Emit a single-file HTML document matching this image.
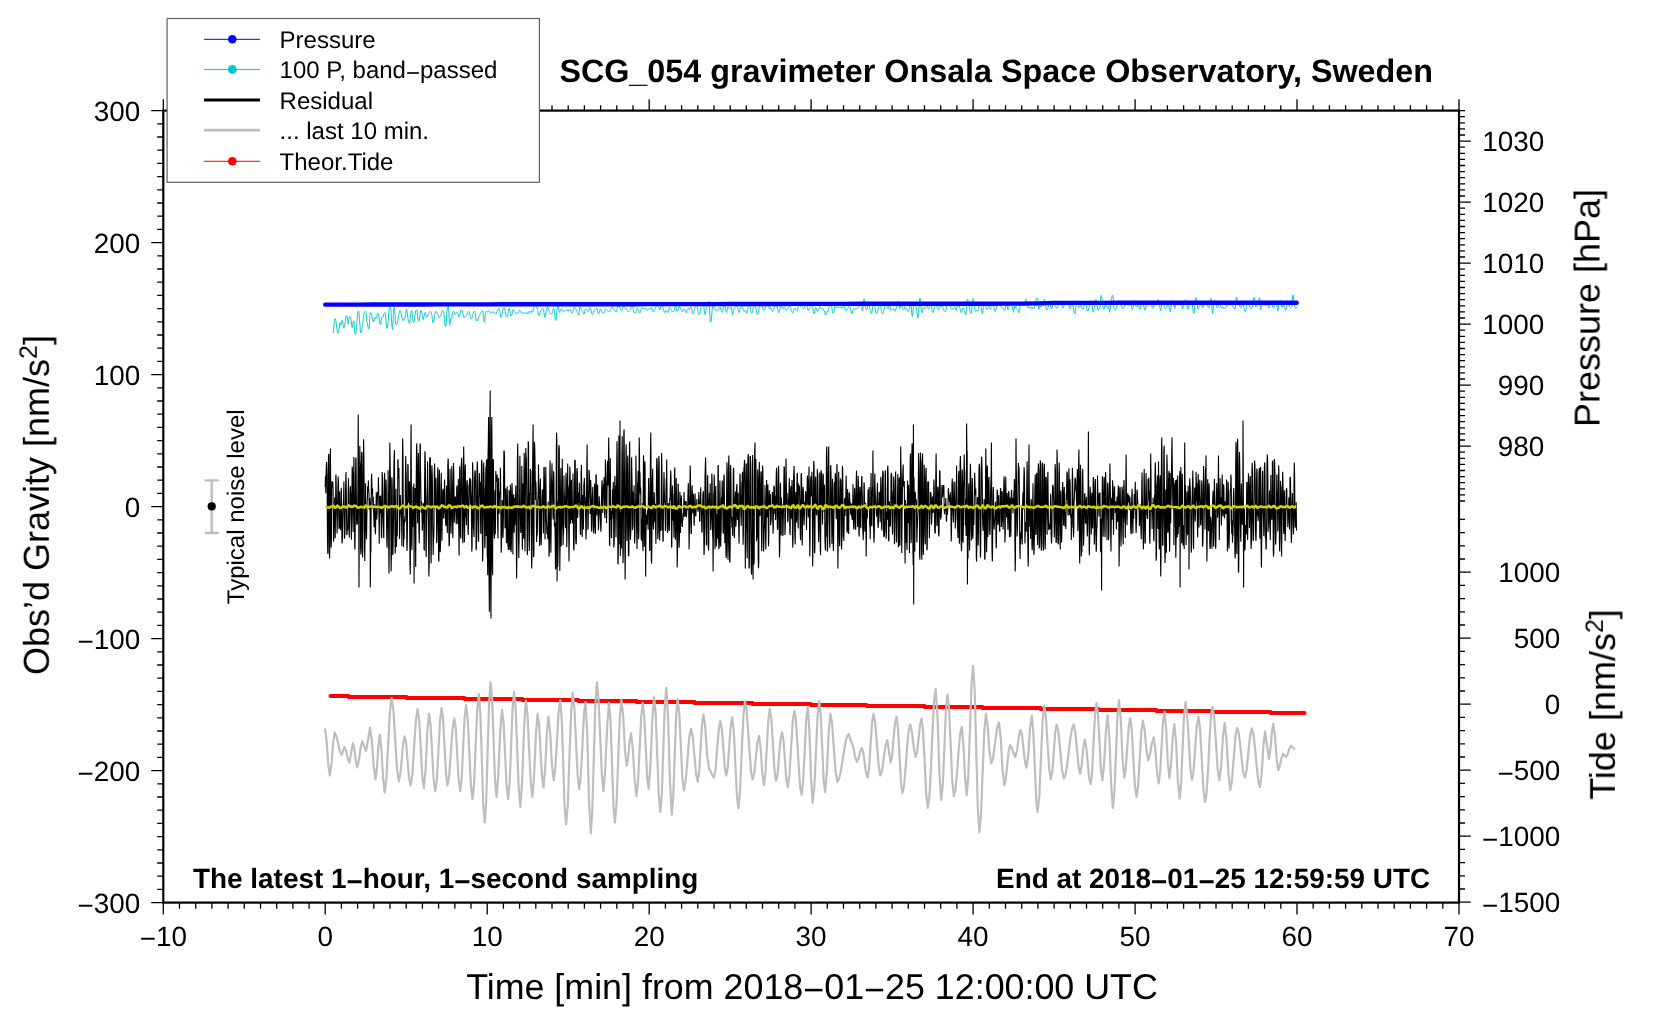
<!DOCTYPE html>
<html><head><meta charset="utf-8"><title>SCG_054 gravimeter Onsala Space Observatory, Sweden</title>
<style>
html,body{margin:0;padding:0;background:#fff;overflow:hidden;width:1660px;height:1020px;}
svg{display:block;}
text{font-family:"Liberation Sans",Arial,Helvetica,sans-serif;fill:#000;text-rendering:geometricPrecision;}
.lg{font-size:24px;}
.tl{font-size:27.9px;}
.ti{font-size:32.3px;font-weight:bold;}
.in{font-size:27.9px;font-weight:bold;}
.al{font-size:36px;}
.sup{font-size:25px;}
.xl{font-size:35.85px;}
</style></head>
<body><svg width="1660" height="1020" viewBox="0 0 1660 1020">
<rect x="0" y="0" width="1660" height="1020" fill="#fff"/>
<polyline fill="none" stroke="rgb(0,200,200)" stroke-width="0.95" stroke-linejoin="round" points="333.3,333 333.6,331 333.9,328 334.2,322.2 334.4,320.5 334.7,319.5 335,318.9 335.2,318.6 335.5,318.9 335.8,320.2 336,321.7 336.3,324 336.6,326.1 336.9,328.2 337.1,330.7 337.4,332.5 337.7,333.4 337.9,332.8 338.2,332.4 338.5,332.6 338.7,330.9 339,329.2 339.3,327.1 339.6,324.1 339.8,323 340.1,322.6 340.4,324 340.6,324.8 340.9,325.2 341.2,324.4 341.4,323.7 341.7,322 342,320.6 342.3,320.5 342.5,321.1 342.8,322.7 343.1,324.5 343.3,326.6 343.6,328.1 343.9,328.1 344.1,328.1 344.4,327.6 344.7,326.2 345,323.9 345.2,322.7 345.5,320.4 345.8,317.9 346,316.4 346.3,315.8 346.6,315.9 346.8,315.6 347.1,316.8 347.4,318.9 347.7,319.9 347.9,322.2 348.2,324 348.5,323.4 348.7,320.8 349,318.9 349.3,317.4 349.5,316.8 349.8,316.7 350.1,316.6 350.4,317.2 350.6,318.3 350.9,319.1 351.2,320.8 351.4,323 351.7,324.9 352,327 352.2,327.7 352.5,326.9 352.8,325.3 353.1,322.1 353.3,321.3 353.6,320.9 353.9,321.7 354.1,324.7 354.4,328.4 354.7,332.2 354.9,333.3 355.2,334.5 355.5,334.4 355.8,333.7 356,332.3 356.3,330.1 356.6,326.9 356.8,323.3 357.1,321.5 357.4,317.1 357.6,313.3 357.9,311.5 358.2,311 358.5,310.9 358.7,311.1 359,312.6 359.3,316.2 359.5,319.6 359.8,323.1 360.1,327.1 360.3,330.7 360.6,332.3 360.9,332.7 361.2,332.4 361.4,332 361.7,330.5 362,328 362.2,326 362.5,324.7 362.8,323.2 363,321.1 363.3,318.8 363.6,316.4 363.9,314.2 364.1,312.9 364.4,312.1 364.7,311.8 364.9,311.7 365.2,311.6 365.5,311.9 365.7,311.7 366,312.2 366.3,313.5 366.5,317 366.8,320.2 367.1,322.6 367.4,323.3 367.6,325.2 367.9,326.6 368.2,328 368.4,328.6 368.7,329 369,328.2 369.2,326.1 369.5,322.6 369.8,317.4 370.1,313.9 370.3,312.6 370.6,313 370.9,313.1 371.1,313.2 371.4,313.8 371.7,315.6 371.9,316.3 372.2,316.9 372.5,318.9 372.8,320.6 373,321.8 373.3,321.4 373.6,320.6 373.8,320.4 374.1,321 374.4,320.1 374.6,319.5 374.9,318.7 375.2,317.2 375.5,317.5 375.7,318.6 376,318.6 376.3,317.8 376.5,317.4 376.8,315.9 377.1,314.8 377.3,314.5 377.6,313.5 377.9,313.1 378.2,313.5 378.4,313.8 378.7,314.9 379,317.1 379.2,320 379.5,321.6 379.8,323.5 380,324.2 380.3,324.4 380.6,324 380.9,323.1 381.1,320.2 381.4,318.5 381.7,317.6 381.9,317 382.2,317.1 382.5,316.9 382.7,316.8 383,317.2 383.3,316.2 383.6,315.1 383.8,314.1 384.1,313.4 384.4,312.9 384.6,312.6 384.9,312.8 385.2,313.8 385.4,315.5 385.7,318.1 386,320.8 386.3,323.8 386.5,326.7 386.8,328.2 387.1,328.4 387.3,327.7 387.6,326 387.9,323.9 388.1,321.3 388.4,318.1 388.7,313.7 389,310.3 389.2,308.7 389.5,308.2 389.8,307.5 390,307.4 390.3,307.5 390.6,307.7 390.8,309 391.1,312.6 391.4,319.1 391.7,322.8 391.9,326.2 392.2,328.3 392.5,329.4 392.7,327.4 393,322.2 393.3,315.5 393.5,309.7 393.8,308.3 394.1,307.6 394.4,307.7 394.6,308.3 394.9,311.3 395.2,315.7 395.4,320.8 395.7,323.7 396,324.5 396.2,324.7 396.5,325.1 396.8,324.5 397.1,323.9 397.3,323.2 397.6,321.9 397.9,320.5 398.1,318.9 398.4,316.9 398.7,315.2 398.9,314.2 399.2,313.2 399.5,311.3 399.8,310.5 400,310.1 400.3,310.4 400.6,310.8 400.8,311.8 401.1,313.2 401.4,314.6 401.6,316.1 401.9,317.7 402.2,317.9 402.5,318.7 402.7,319.9 403,320.7 403.3,320.1 403.5,319.8 403.8,319.1 404.1,319.3 404.3,318.9 404.6,318.3 404.9,318.1 405.2,316.4 405.4,314.8 405.7,313.5 406,311.5 406.2,309.9 406.5,309.3 406.8,309.4 407,310.6 407.3,312.9 407.6,314.8 407.8,317.2 408.1,319.4 408.4,321 408.7,321.4 408.9,322.2 409.2,323.3 409.5,323.7 409.7,323.1 410,321.3 410.3,318.5 410.5,316.2 410.8,313.3 411.1,311.8 411.4,310.9 411.6,310.7 411.9,311.3 412.2,313.5 412.4,316.3 412.7,318.6 413,320.6 413.2,321.9 413.5,322.5 413.8,322.5 414.1,321.5 414.3,320.2 414.6,317.9 414.9,316.2 415.1,314.3 415.4,312 415.7,310.7 415.9,310.3 416.2,310.4 416.5,310.2 416.8,309.8 417,310.3 417.3,312.7 417.6,315.6 417.8,318 418.1,320 418.4,320.6 418.6,321.3 418.9,321 419.2,320.4 419.5,319 419.7,316.9 420,314.6 420.3,312.3 420.5,310.6 420.8,310.3 421.1,310.5 421.3,310.9 421.6,311.9 421.9,312.9 422.2,314.5 422.4,316.5 422.7,318 423,319 423.2,319.6 423.5,319.3 423.8,318.1 424,316.7 424.3,315 424.6,313.5 424.9,312.8 425.1,312.4 425.4,312.5 425.7,313.6 425.9,314.6 426.2,316.2 426.5,317.1 426.7,317.3 427,317.3 427.3,317 427.6,316 427.8,315.6 428.1,315.6 428.4,315.1 428.6,314.6 428.9,314.2 429.2,313.4 429.4,313.1 429.7,312.4 430,311.4 430.3,311.5 430.5,311.6 430.8,311.7 431.1,312 431.3,312.3 431.6,313.6 431.9,315.3 432.1,317.2 432.4,319.3 432.7,321.9 433,322.5 433.2,322.7 433.5,322.2 433.8,321 434,319.8 434.3,318.6 434.6,316.4 434.8,314.6 435.1,313.2 435.4,312.7 435.7,311.7 435.9,311.3 436.2,311.4 436.5,311.9 436.7,312.8 437,313.1 437.3,313.7 437.5,314.3 437.8,314.6 438.1,315.1 438.4,315.6 438.6,316.4 438.9,317.4 439.2,317.5 439.4,317.6 439.7,317.4 440,317 440.2,316.3 440.5,315.9 440.8,315.1 441.1,314.5 441.3,313.4 441.6,312.7 441.9,311.9 442.1,311 442.4,310.5 442.7,310.2 442.9,310.5 443.2,310.8 443.5,311.8 443.8,313.4 444,315.2 444.3,317.3 444.6,319.5 444.8,322.7 445.1,325 445.4,326 445.6,326.6 445.9,325.7 446.2,323.2 446.5,319.1 446.7,314.3 447,310.9 447.3,308.6 447.5,307.5 447.8,306.6 448.1,306.2 448.3,306 448.6,307.3 448.9,312.2 449.1,318.2 449.4,323.7 449.7,325.2 450,324.2 450.2,323 450.5,319.3 450.8,318.5 451,318.4 451.3,319.1 451.6,318.9 451.8,317.6 452.1,315.8 452.4,314 452.7,313.1 452.9,312.1 453.2,311.3 453.5,311.4 453.7,311.3 454,311.3 454.3,311.9 454.5,313.5 454.8,314.4 455.1,314.4 455.4,314.1 455.6,314 455.9,313.8 456.2,313.5 456.4,312.9 456.7,312.8 457,312.6 457.2,312.3 457.5,312.3 457.8,312.9 458.1,313.6 458.3,315 458.6,316.1 458.9,317.1 459.1,316.9 459.4,316.3 459.7,315.6 459.9,314.5 460.2,313.3 460.5,312.1 460.8,310.9 461,310.1 461.3,309.7 461.6,309.9 461.8,310.1 462.1,310.5 462.4,311 462.6,312 462.9,313.6 463.2,315.1 463.5,316.5 463.7,317.3 464,317.9 464.3,317.9 464.5,317.2 464.8,316.6 465.1,316.5 465.3,316.4 465.6,316 465.9,315.6 466.2,315.6 466.4,315.3 466.7,315.1 467,314.9 467.2,313.9 467.5,312.9 467.8,312.3 468,312 468.3,311.8 468.6,311.5 468.9,311.6 469.1,311.8 469.4,312.4 469.7,313.6 469.9,314.7 470.2,315.9 470.5,316.9 470.7,318.3 471,318.6 471.3,318.5 471.6,318.5 471.8,318.5 472.1,318.2 472.4,316.6 472.6,315.4 472.9,314.3 473.2,313.6 473.4,312.6 473.7,311.8 474,311.4 474.3,311 474.5,310.8 474.8,311.5 475.1,312.6 475.3,314.1 475.6,316.8 475.9,319.5 476.1,320.4 476.4,320.7 476.7,320.2 477,319.4 477.2,320 477.5,320.6 477.8,320.4 478,319.1 478.3,318.1 478.6,316.9 478.8,316.4 479.1,315.9 479.4,315.7 479.7,315.1 479.9,314.4 480.2,313.9 480.5,313.1 480.7,312.6 481,312.2 481.3,311.8 481.5,311.4 481.8,311.2 482.1,310.7 482.4,310.6 482.6,311 482.9,311.8 483.2,313.7 483.4,316.2 483.7,318.5 484,321.1 484.2,322.2 484.5,322.1 484.8,319.7 485.1,316.5 485.3,313.9 485.6,312.4 485.9,311.8 486.1,311.8 486.4,311.8 486.7,311.7 486.9,311.8 487.2,311.8 487.5,311.8 487.7,311.9 488,311.6 488.3,311 488.6,310.8 488.8,310.6 489.1,310.9 489.4,311.2 489.6,311.4 489.9,311.9 490.2,312.4 490.4,312.9 490.7,313.3 491,313.3 491.3,313.2 491.5,312.9 491.8,312.5 492.1,312 492.3,311.7 492.6,311.8 492.9,312.1 493.1,312.1 493.4,312.5 493.7,312.4 494,312.4 494.2,312.5 494.5,312.9 494.8,313 495,312.9 495.3,313.2 495.6,313.7 495.8,313.8 496.1,313.7 496.4,313.3 496.7,312.1 496.9,311.4 497.2,310.6 497.5,310 497.7,309.6 498,308.9 498.3,308.9 498.5,308.9 498.8,308.5 499.1,308.8 499.4,309.7 499.6,310.6 499.9,311.7 500.2,314 500.4,316.1 500.7,317.1 501,317 501.2,317.3 501.5,316.8 501.8,315.4 502.1,314.5 502.3,313.6 502.6,312.1 502.9,310.5 503.1,309.1 503.4,308.1 503.7,308.1 503.9,308.1 504.2,308.1 504.5,308 504.8,308.7 505,310.1 505.3,311.7 505.6,313.5 505.8,315.4 506.1,316.5 506.4,316.7 506.6,316.6 506.9,317 507.2,316.8 507.5,316.6 507.7,315.6 508,313.7 508.3,311.2 508.5,310 508.8,308.9 509.1,308.3 509.3,308.6 509.6,309.9 509.9,311.3 510.2,312.8 510.4,314.6 510.7,315.9 511,316.2 511.2,316.1 511.5,315.8 511.8,315.2 512,314.2 512.3,312.9 512.6,311.5 512.9,309.9 513.1,309.6 513.4,309.7 513.7,309.9 513.9,310.1 514.2,310.8 514.5,311.2 514.7,311.4 515,311.9 515.3,312.4 515.6,313 515.8,313.4 516.1,313.8 516.4,313.7 516.6,313.6 516.9,313.5 517.2,313.3 517.4,312.9 517.7,312.8 518,312.7 518.3,312.7 518.5,312.3 518.8,311.5 519.1,311.1 519.3,310.6 519.6,310.1 519.9,309.9 520.1,310.4 520.4,310.8 520.7,311.3 521,311.9 521.2,312.5 521.5,313.1 521.8,313 522,313.1 522.3,312.8 522.6,313 522.8,313 523.1,312.9 523.4,312.7 523.7,312.5 523.9,313 524.2,313.2 524.5,313.6 524.7,313.8 525,313.7 525.3,313.6 525.5,313.5 525.8,313.2 526.1,312.5 526.4,312 526.6,312.5 526.9,312.8 527.2,313.1 527.4,313.2 527.7,314 528,314.2 528.2,313.9 528.5,313.1 528.8,312.3 529,311.7 529.3,311.3 529.6,310.9 529.9,311.1 530.1,311.8 530.4,312.7 530.7,312.6 530.9,312.3 531.2,312 531.5,312 531.7,311.1 532,310.7 532.3,310.6 532.6,311.3 532.8,311.5 533.1,311.4 533.4,310.6 533.6,309.3 533.9,307.5 534.2,304.7 534.4,303.9 534.7,304.2 535,304.7 535.3,304.1 535.5,305.4 535.8,305.3 536.1,305.3 536.3,305.2 536.6,305.5 536.9,306.5 537.1,308.1 537.4,309.7 537.7,310.6 538,311.8 538.2,313 538.5,314.1 538.8,315.3 539,315.8 539.3,315.6 539.6,314.9 539.8,313.8 540.1,312.8 540.4,311.9 540.7,310.9 540.9,310.4 541.2,310 541.5,309.7 541.7,309.5 542,309.1 542.3,308.9 542.5,308.7 542.8,308.6 543.1,308.7 543.4,309.3 543.6,310 543.9,312.4 544.2,314.3 544.4,316.1 544.7,317 545,316.9 545.2,315.7 545.5,314 545.8,312.9 546.1,311.6 546.3,310.6 546.6,309.5 546.9,308.4 547.1,307.6 547.4,307.2 547.7,307.6 547.9,307.9 548.2,308.6 548.5,309.4 548.8,310.4 549,311.3 549.3,311.6 549.6,312.1 549.8,312.6 550.1,313 550.4,313.3 550.6,313.7 550.9,314.1 551.2,314.3 551.5,314 551.7,313.8 552,313.2 552.3,312.5 552.5,311.5 552.8,310.4 553.1,309.7 553.3,308.9 553.6,308.7 553.9,308.5 554.2,309.3 554.4,310.4 554.7,313.4 555,316.7 555.2,319.4 555.5,320.3 555.8,320.1 556,320.3 556.3,318.8 556.6,315.2 556.9,311.6 557.1,309.5 557.4,307.6 557.7,305.9 557.9,304.9 558.2,304.4 558.5,305.2 558.7,307.7 559,310.4 559.3,312 559.6,312.5 559.8,311.6 560.1,310.9 560.4,309.7 560.6,309.3 560.9,309.1 561.2,308.9 561.4,309.4 561.7,309.4 562,309.8 562.3,310.3 562.5,310.8 562.8,311.2 563.1,311.3 563.3,311.5 563.6,311.9 563.9,311.7 564.1,311.4 564.4,311.1 564.7,310.8 565,310.6 565.2,310.4 565.5,310.2 565.8,310.3 566,310.3 566.3,310.2 566.6,310.1 566.8,309.9 567.1,309.6 567.4,309.9 567.7,310 567.9,310.8 568.2,311.1 568.5,310.8 568.7,310.3 569,309.6 569.3,309.4 569.5,309.5 569.8,309.4 570.1,309.4 570.3,309.5 570.6,310.3 570.9,311.1 571.2,311.9 571.4,312.6 571.7,313.1 572,313.3 572.2,313 572.5,312.6 572.8,312.1 573,311.1 573.3,310.3 573.6,309.3 573.9,308.1 574.1,307.4 574.4,307.1 574.7,307.4 574.9,307.9 575.2,308.2 575.5,308.5 575.7,308.9 576,309.4 576.3,310 576.6,310.6 576.8,311.4 577.1,311.9 577.4,312.4 577.6,313 577.9,313.7 578.2,314.6 578.4,314.9 578.7,315 579,313.9 579.3,311.8 579.5,308.8 579.8,307.3 580.1,306.8 580.3,306.8 580.6,307.5 580.9,307.9 581.1,308.4 581.4,308.9 581.7,309.7 582,310.4 582.2,310.7 582.5,311 582.8,311.3 583,312 583.3,312.9 583.6,313.7 583.8,314.3 584.1,313.8 584.4,313 584.7,311.7 584.9,310.6 585.2,309.8 585.5,309.2 585.7,309 586,309 586.3,309.2 586.5,309.3 586.8,309.6 587.1,310 587.4,310.7 587.6,311.1 587.9,311.4 588.2,311.3 588.4,311.3 588.7,311.1 589,310.2 589.2,309.2 589.5,308.3 589.8,307.7 590.1,307.4 590.3,307.6 590.6,308.2 590.9,309.1 591.1,310.4 591.4,311.9 591.7,313.2 591.9,313.9 592.2,314.4 592.5,314.3 592.8,314.1 593,313.5 593.3,312.7 593.6,311.7 593.8,310.8 594.1,310.3 594.4,310.2 594.6,310 594.9,310.1 595.2,309.9 595.5,309.7 595.7,309.3 596,309 596.3,308.6 596.5,308.4 596.8,308.2 597.1,308.5 597.3,309.5 597.6,310.7 597.9,311.9 598.2,313 598.4,313.6 598.7,313.8 599,313.3 599.2,312.4 599.5,311.6 599.8,310.7 600,309.9 600.3,309 600.6,308.9 600.9,309.3 601.1,309.6 601.4,310.5 601.7,311.3 601.9,312.2 602.2,312.8 602.5,312.9 602.7,313.1 603,313.2 603.3,313.2 603.6,313.1 603.8,312.8 604.1,312.2 604.4,311.5 604.6,310.4 604.9,309.4 605.2,308.8 605.4,308.4 605.7,308.7 606,309 606.3,309.1 606.5,309.4 606.8,309.7 607.1,310.2 607.3,310.5 607.6,310.8 607.9,311 608.1,311.2 608.4,311.5 608.7,311.4 608.9,311.2 609.2,311.2 609.5,311.3 609.8,311.5 610,311.2 610.3,311 610.6,310.5 610.8,310 611.1,309.2 611.4,308.1 611.6,307.5 611.9,307.4 612.2,307.2 612.5,307.3 612.7,307.6 613,307.9 613.3,308.5 613.5,309.1 613.8,309.4 614.1,309.6 614.3,309.9 614.6,309.9 614.9,310.2 615.2,310.6 615.4,311.1 615.7,311.5 616,311.8 616.2,312.1 616.5,312 616.8,310.9 617,309.4 617.3,308.4 617.6,307.8 617.9,306.9 618.1,306.2 618.4,305.4 618.7,304.6 618.9,304.2 619.2,304.8 619.5,306 619.7,307.3 620,307.5 620.3,308.9 620.6,309.5 620.8,310 621.1,310.5 621.4,310.9 621.6,311.2 621.9,310.8 622.2,310.2 622.4,309.4 622.7,308.5 623,307.4 623.3,306.9 623.5,306.4 623.8,306.5 624.1,307.1 624.3,307.8 624.6,308.2 624.9,308.6 625.1,308.9 625.4,309.1 625.7,309.1 626,309.1 626.2,309.1 626.5,309.2 626.8,309.2 627,309.6 627.3,310.4 627.6,311 627.8,311.4 628.1,311.5 628.4,311.6 628.7,311.7 628.9,311.6 629.2,311.2 629.5,310.9 629.7,310.7 630,310.3 630.3,310 630.5,309.2 630.8,308.4 631.1,307.9 631.4,307.3 631.6,306.6 631.9,306.3 632.2,305.9 632.4,305.8 632.7,306.5 633,307.5 633.2,308.9 633.5,310.7 633.8,311.9 634.1,312.6 634.3,313.1 634.6,313.2 634.9,313.2 635.1,313.2 635.4,313.1 635.7,312.3 635.9,311.4 636.2,310.3 636.5,309.5 636.8,309 637,308.3 637.3,308.2 637.6,308.2 637.8,308.6 638.1,309.2 638.4,310.1 638.6,311.2 638.9,312.3 639.2,313 639.5,313 639.7,313 640,312.7 640.3,312.2 640.5,311.6 640.8,310.6 641.1,309.3 641.3,308.1 641.6,307.9 641.9,307.8 642.2,307.8 642.4,308 642.7,308.5 643,309 643.2,309 643.5,308.9 643.8,308.6 644,308.6 644.3,308.5 644.6,308.4 644.9,308.1 645.1,307.8 645.4,308.2 645.7,308.9 645.9,309.6 646.2,310 646.5,309.9 646.7,310.1 647,310.1 647.3,310.2 647.6,310.2 647.8,310.2 648.1,309.4 648.4,308.9 648.6,309 648.9,309 649.2,309.1 649.4,309.1 649.7,309.1 650,308.6 650.2,308.1 650.5,307.8 650.8,307.9 651.1,307.8 651.3,307.8 651.6,307.9 651.9,308.2 652.1,309.1 652.4,310.1 652.7,311 652.9,311.3 653.2,311.8 653.5,311.6 653.8,311.4 654,311.3 654.3,311.1 654.6,310.3 654.8,309.7 655.1,309 655.4,308.7 655.6,307.7 655.9,306.9 656.2,305.8 656.5,305.1 656.7,304.8 657,305.1 657.3,305.5 657.5,305.8 657.8,305.9 658.1,306 658.3,306.5 658.6,307.1 658.9,307.6 659.2,308 659.4,308.8 659.7,309.7 660,309.7 660.2,309.5 660.5,308.8 660.8,306.5 661,304.8 661.3,303.9 661.6,302.9 661.9,302.9 662.1,303.6 662.4,304.5 662.7,306 662.9,307.6 663.2,308.7 663.5,310.1 663.7,310.3 664,311.3 664.3,312.1 664.6,312.3 664.8,312.6 665.1,312 665.4,311 665.6,311 665.9,311.3 666.2,311.1 666.4,310.6 666.7,310.7 667,311.4 667.3,311.5 667.5,312.3 667.8,312.5 668.1,312.3 668.3,312.2 668.6,311.4 668.9,309.7 669.1,308.2 669.4,307.7 669.7,307.3 670,307.5 670.2,308.2 670.5,308.8 670.8,309.2 671,309.6 671.3,310 671.6,310.5 671.8,310.8 672.1,311.4 672.4,311.8 672.7,312 672.9,311.7 673.2,311.1 673.5,310.9 673.7,310.8 674,310.7 674.3,310.4 674.5,309.5 674.8,308 675.1,306.7 675.4,305.6 675.6,304.9 675.9,306.2 676.2,307.6 676.4,308.4 676.7,310.2 677,311.4 677.2,311 677.5,310.6 677.8,309.9 678.1,309.2 678.3,308.5 678.6,307.4 678.9,306.3 679.1,306.2 679.4,306.4 679.7,306.6 679.9,307.3 680.2,307.7 680.5,308 680.8,308.9 681,309.7 681.3,310.5 681.6,311 681.8,311.3 682.1,311.6 682.4,311.6 682.6,311.4 682.9,311.1 683.2,309.9 683.5,309.1 683.7,309.1 684,309.3 684.3,309.6 684.5,309.7 684.8,309.8 685.1,310.6 685.3,311.6 685.6,312 685.9,312.7 686.2,312.6 686.4,312.1 686.7,311.2 687,310.5 687.2,309.6 687.5,309.2 687.8,308.9 688,309.2 688.3,309 688.6,308.8 688.9,309 689.1,309.7 689.4,309.5 689.7,309.2 689.9,308.2 690.2,307.6 690.5,307 690.7,306.8 691,307.2 691.3,308 691.5,308.8 691.8,309.8 692.1,311.6 692.4,312.8 692.6,313.7 692.9,313.9 693.2,313.9 693.4,313.3 693.7,312.5 694,310.9 694.2,309.4 694.5,308.9 694.8,308.1 695.1,307.3 695.3,307.1 695.6,306.7 695.9,305.8 696.1,304.8 696.4,304.4 696.7,304.8 696.9,305.6 697.2,306.6 697.5,308.2 697.8,309.8 698,311.5 698.3,313.3 698.6,314.3 698.8,314.6 699.1,314.6 699.4,314.6 699.6,314.6 699.9,313.8 700.2,312.1 700.5,309.8 700.7,308 701,307.3 701.3,306.9 701.5,307 701.8,306.6 702.1,305.6 702.3,304.3 702.6,303 702.9,302.5 703.2,302.5 703.4,303.4 703.7,305 704,307.7 704.2,310.7 704.5,312.8 704.8,314.1 705,314.4 705.3,314 705.6,312.8 705.9,311 706.1,309.5 706.4,308.4 706.7,307.4 706.9,306.6 707.2,305.7 707.5,304.3 707.7,303.2 708,302.4 708.3,301.5 708.6,301 708.8,300.9 709.1,301.7 709.4,304.7 709.6,310.9 709.9,316.5 710.2,320.6 710.4,322.2 710.7,321.8 711,321 711.3,320 711.5,318 711.8,314.3 712.1,310.8 712.3,308.2 712.6,306.8 712.9,305.9 713.1,305.3 713.4,305 713.7,305.9 714,306.9 714.2,308.2 714.5,308.8 714.8,309.4 715,309.4 715.3,309.2 715.6,309.3 715.8,309.9 716.1,310.4 716.4,311 716.7,311.3 716.9,311.2 717.2,311 717.5,310.9 717.7,310.7 718,310.2 718.3,309.5 718.5,309 718.8,308.4 719.1,308.3 719.4,307.7 719.6,307.6 719.9,307.3 720.2,307.2 720.4,308 720.7,309.2 721,310.1 721.2,310.6 721.5,311.1 721.8,311.8 722.1,312.1 722.3,312.3 722.6,312 722.9,310.5 723.1,309.4 723.4,308.1 723.7,307.4 723.9,306.8 724.2,306.3 724.5,305.9 724.8,306 725,306.7 725.3,308 725.6,309.5 725.8,310.9 726.1,311.8 726.4,312.3 726.6,312.5 726.9,311.5 727.2,310 727.5,308.4 727.7,307.4 728,307.1 728.3,307.7 728.5,308 728.8,308.4 729.1,308.6 729.3,308.5 729.6,308.3 729.9,308.3 730.2,308.6 730.4,308.3 730.7,308 731,307.3 731.2,307.3 731.5,308.8 731.8,310.6 732,311.8 732.3,313.3 732.6,314.8 732.8,313.8 733.1,312 733.4,310.6 733.7,309.2 733.9,308.9 734.2,308.8 734.5,308.7 734.7,308.2 735,308.2 735.3,307.8 735.5,307.3 735.8,306.8 736.1,306.5 736.4,305.9 736.6,305.4 736.9,305.5 737.2,305.8 737.4,306.4 737.7,307.6 738,308.9 738.2,310.4 738.5,311.5 738.8,312 739.1,312.6 739.3,312.3 739.6,311.1 739.9,309.4 740.1,308.7 740.4,308.1 740.7,308.1 740.9,307.5 741.2,306.7 741.5,306.3 741.8,306.1 742,306.1 742.3,306.6 742.6,307.3 742.8,308.1 743.1,308.9 743.4,309.5 743.6,310.1 743.9,310.9 744.2,311 744.5,311 744.7,311.1 745,310.9 745.3,310.4 745.5,310.6 745.8,310.9 746.1,311.8 746.3,313 746.6,313.5 746.9,313.3 747.2,312.5 747.4,311.8 747.7,309.7 748,307.7 748.2,306.5 748.5,305.6 748.8,305.3 749,305.3 749.3,305 749.6,305.4 749.9,306 750.1,306.9 750.4,308 750.7,309.7 750.9,311.3 751.2,312.5 751.5,313.3 751.7,313.2 752,312.9 752.3,312.6 752.6,312 752.8,310.3 753.1,308.4 753.4,307.5 753.6,306.6 753.9,306 754.2,305.2 754.4,304.6 754.7,304.2 755,304.4 755.3,305.3 755.5,306.6 755.8,308.3 756.1,309.8 756.3,311.5 756.6,312.7 756.9,313.7 757.1,314.4 757.4,314.4 757.7,314.4 758,314 758.2,312.8 758.5,311.5 758.8,310 759,308.5 759.3,307.5 759.6,306.3 759.8,305.2 760.1,304.4 760.4,303.7 760.7,303.7 760.9,303.9 761.2,304.2 761.5,304.5 761.7,304.8 762,305.6 762.3,306.2 762.5,307.3 762.8,308.6 763.1,309.9 763.4,310.3 763.6,310.3 763.9,310.4 764.2,310.3 764.4,309.7 764.7,308.8 765,308.2 765.2,307 765.5,306.4 765.8,306.2 766.1,305.8 766.3,305.9 766.6,305.1 766.9,304.1 767.1,303.7 767.4,304.4 767.7,304.9 767.9,305 768.2,305.4 768.5,306.2 768.8,306.8 769,307 769.3,308.4 769.6,309.1 769.8,308.4 770.1,307.7 770.4,308 770.6,308.7 770.9,309.2 771.2,308.9 771.4,308.6 771.7,309.5 772,310.5 772.3,311.5 772.5,311.4 772.8,311 773.1,310.2 773.3,310 773.6,309.6 773.9,309.1 774.1,308.4 774.4,306.8 774.7,306 775,304.9 775.2,304.1 775.5,303.3 775.8,302.9 776,302.9 776.3,303.2 776.6,304.4 776.8,305.5 777.1,306.7 777.4,308.1 777.7,309.3 777.9,310.1 778.2,311.3 778.5,312.4 778.7,312.7 779,312.6 779.3,311.9 779.5,311.1 779.8,309.6 780.1,308.4 780.4,307.5 780.6,307 780.9,306.6 781.2,306.6 781.4,306.4 781.7,306.5 782,306.9 782.2,307.6 782.5,308 782.8,308.6 783.1,308.6 783.3,308.4 783.6,307.9 783.9,307.3 784.1,306.8 784.4,306.8 784.7,307.3 784.9,308 785.2,308.4 785.5,309.1 785.8,309.9 786,310.3 786.3,310 786.6,309.5 786.8,309.7 787.1,309.6 787.4,309.3 787.6,309.3 787.9,308.7 788.2,307.8 788.5,307 788.7,306.8 789,306.6 789.3,306.3 789.5,305.7 789.8,306 790.1,306 790.3,306.7 790.6,307.3 790.9,308.3 791.2,309.8 791.4,310.7 791.7,311.4 792,312 792.2,312.7 792.5,312.8 792.8,312.8 793,312.5 793.3,311.5 793.6,310.6 793.9,310.1 794.1,309.5 794.4,308.8 794.7,308.4 794.9,308.6 795.2,308.4 795.5,308.5 795.7,309.4 796,309.8 796.3,310.1 796.6,310.3 796.8,310.4 797.1,310.8 797.4,310.3 797.6,309.4 797.9,308.1 798.2,306.8 798.4,306.5 798.7,306.1 799,305.7 799.3,305.4 799.5,305.6 799.8,305.9 800.1,306.1 800.3,306.2 800.6,306.4 800.9,306.4 801.1,305.7 801.4,305.7 801.7,306 802,306.3 802.2,306.7 802.5,307.4 802.8,307.9 803,308.3 803.3,308.5 803.6,309.1 803.8,308.7 804.1,307.7 804.4,307.5 804.7,306.9 804.9,306.2 805.2,305.4 805.5,304.2 805.7,303.5 806,303.6 806.3,304.1 806.5,304.5 806.8,305.1 807.1,306.5 807.4,307.9 807.6,308.8 807.9,309.9 808.2,310.6 808.4,310.3 808.7,309.5 809,309.1 809.2,308.5 809.5,307.9 809.8,307.7 810.1,307.2 810.3,306.2 810.6,305.5 810.9,304.7 811.1,304.2 811.4,303.7 811.7,303.2 811.9,302.5 812.2,302.4 812.5,303.9 812.7,305.3 813,308 813.3,311.2 813.6,313.1 813.8,313.5 814.1,313.6 814.4,312.9 814.6,311.6 814.9,309.9 815.2,309.6 815.4,308.3 815.7,307.5 816,308 816.3,308.4 816.5,309.7 816.8,310.5 817.1,311.1 817.3,311.6 817.6,311.4 817.9,311 818.1,310.7 818.4,309.9 818.7,309.2 819,308.9 819.2,308.1 819.5,307.4 819.8,307.1 820,306.6 820.3,306.7 820.6,307.4 820.8,307.8 821.1,308.4 821.4,308.7 821.7,308.8 821.9,309 822.2,309.1 822.5,309.2 822.7,309 823,309.2 823.3,309.6 823.5,309.6 823.8,309.7 824.1,310.7 824.4,311.1 824.6,311.8 824.9,313.3 825.2,314.3 825.4,315.2 825.7,314.8 826,314.4 826.2,313.8 826.5,313.2 826.8,311.9 827.1,311.1 827.3,311.3 827.6,311.9 827.9,311.7 828.1,310.9 828.4,310.1 828.7,309.1 828.9,307.7 829.2,306 829.5,305.2 829.8,304.6 830,304.3 830.3,303.9 830.6,303.5 830.8,303.4 831.1,303.6 831.4,304.9 831.6,306.4 831.9,308.3 832.2,310.2 832.5,311.7 832.7,312.6 833,313.3 833.3,313.5 833.5,312.8 833.8,312 834.1,310.9 834.3,309 834.6,307 834.9,305.6 835.2,305 835.4,304.8 835.7,305.3 836,306.3 836.2,306.8 836.5,307.1 836.8,307.5 837,307.7 837.3,307.7 837.6,307.8 837.9,307.8 838.1,307.7 838.4,307.1 838.7,307.4 838.9,307.3 839.2,307.1 839.5,307.4 839.7,307.8 840,307.8 840.3,307.4 840.6,307.6 840.8,308.1 841.1,307.8 841.4,307.1 841.6,306.9 841.9,307.3 842.2,307.6 842.4,308.3 842.7,308.3 843,307.7 843.3,306.7 843.5,306.2 843.8,306 844.1,306.3 844.3,306.1 844.6,306.7 844.9,307.3 845.1,308.8 845.4,310.2 845.7,310.6 846,310.7 846.2,310.2 846.5,310.2 846.8,310 847,310.2 847.3,309.8 847.6,309.1 847.8,308.4 848.1,307.8 848.4,306.9 848.7,306.5 848.9,306.7 849.2,306.9 849.5,307 849.7,307 850,307.2 850.3,307.5 850.5,308.2 850.8,310 851.1,311.8 851.4,313 851.6,313.1 851.9,313.8 852.2,313.3 852.4,312.2 852.7,310.7 853,310 853.2,309.6 853.5,308.7 853.8,308.4 854,308.3 854.3,308.6 854.6,309 854.9,309.2 855.1,309 855.4,309 855.7,309.5 855.9,309.4 856.2,309.1 856.5,309 856.7,308.7 857,308.6 857.3,308.3 857.6,307.7 857.8,307.7 858.1,307.1 858.4,306.9 858.6,306.6 858.9,306.4 859.2,306.2 859.4,306.1 859.7,306.1 860,306.3 860.3,306 860.5,305.4 860.8,304.9 861.1,305 861.3,304.9 861.6,306.5 861.9,308.1 862.1,310.4 862.4,310.8 862.7,310 863,308.2 863.2,305.4 863.5,302 863.8,299.9 864,298.9 864.3,299.5 864.6,300.8 864.8,303 865.1,304.3 865.4,306.1 865.7,308.1 865.9,309.3 866.2,309.7 866.5,309.7 866.7,310 867,309.6 867.3,308.7 867.5,307.3 867.8,306.2 868.1,305.7 868.4,305.2 868.6,305.3 868.9,305.8 869.2,306.1 869.4,306.7 869.7,307.9 870,309.4 870.2,310.8 870.5,312.2 870.8,313 871.1,313.3 871.3,313.7 871.6,313.6 871.9,312.6 872.1,310.9 872.4,308.9 872.7,306.3 872.9,304 873.2,302.5 873.5,302.5 873.8,302.5 874,302.5 874.3,302.5 874.6,302.5 874.8,304.3 875.1,307.3 875.4,310.1 875.6,311.8 875.9,313.1 876.2,313.7 876.5,313.7 876.7,313.7 877,313.7 877.3,313.3 877.5,312.3 877.8,311 878.1,309.2 878.3,308.2 878.6,306.9 878.9,305.5 879.2,304.9 879.4,304.6 879.7,304.2 880,304.5 880.2,305.5 880.5,306.1 880.8,307 881,308.3 881.3,310.1 881.6,311.6 881.9,312.8 882.1,313.5 882.4,313.7 882.7,313.7 882.9,313.7 883.2,313.3 883.5,312.1 883.7,311.3 884,309.8 884.3,308.1 884.6,306.3 884.8,305.4 885.1,304.6 885.4,304 885.6,303.9 885.9,304.3 886.2,305.2 886.4,305.9 886.7,306.4 887,306.4 887.3,307 887.5,307.5 887.8,308.1 888.1,308.6 888.3,308.4 888.6,307.6 888.9,306.5 889.1,306.4 889.4,306.1 889.7,306.1 890,305.7 890.2,307.5 890.5,309.8 890.8,310.5 891,310.2 891.3,309.9 891.6,310 891.8,309.6 892.1,309.5 892.4,309.4 892.6,309.4 892.9,309.1 893.2,308.9 893.5,309 893.7,309 894,308.8 894.3,309.5 894.5,310.3 894.8,311 895.1,310.8 895.3,310.8 895.6,309.9 895.9,309.3 896.2,308.9 896.4,308.1 896.7,307 897,306 897.2,305 897.5,303.4 897.8,302.8 898,301.8 898.3,301.3 898.6,301.1 898.9,302.5 899.1,303.4 899.4,305.6 899.7,308.5 899.9,308.4 900.2,307 900.5,305.6 900.7,304 901,303.5 901.3,303.8 901.6,304.9 901.8,305.8 902.1,306.8 902.4,307.7 902.6,308.6 902.9,309.2 903.2,309.5 903.4,309.6 903.7,309.7 904,309.6 904.3,309 904.5,307.6 904.8,306.8 905.1,306.5 905.3,306.3 905.6,306.6 905.9,307.1 906.1,307.5 906.4,307.7 906.7,308.4 907,309.6 907.2,310.4 907.5,310.7 907.8,311 908,311.3 908.3,311.5 908.6,310.9 908.8,310.2 909.1,309.4 909.4,308.3 909.7,307.2 909.9,305.9 910.2,304.9 910.5,304 910.7,303.3 911,304.9 911.3,307 911.5,310.2 911.8,314.1 912.1,315.8 912.4,316.4 912.6,315 912.9,312.7 913.2,308.5 913.4,306.4 913.7,305.4 914,304.3 914.2,304.4 914.5,304.4 914.8,304.1 915.1,304.3 915.3,304.6 915.6,304.8 915.9,305.6 916.1,306.6 916.4,307.8 916.7,309.6 916.9,311.5 917.2,314 917.5,316.3 917.8,318.1 918,317.3 918.3,315 918.6,313.3 918.8,310 919.1,306.1 919.4,302.3 919.6,299 919.9,298.1 920.2,298.5 920.5,300.8 920.7,304.7 921,307.9 921.3,309.9 921.5,311.6 921.8,312.1 922.1,312.6 922.3,312.6 922.6,311.3 922.9,309.3 923.2,308.3 923.4,307.9 923.7,307.6 924,308 924.2,308.3 924.5,308.4 924.8,308.4 925,308.6 925.3,307.8 925.6,307.2 925.9,306.8 926.1,306.2 926.4,305.6 926.7,305.7 926.9,305.8 927.2,305.9 927.5,306.6 927.7,306.9 928,308.1 928.3,308.9 928.6,309.2 928.8,308.9 929.1,308.3 929.4,307.3 929.6,306.4 929.9,305.3 930.2,303.9 930.4,303.4 930.7,303.5 931,304.2 931.3,305.4 931.5,307 931.8,308.2 932.1,310.2 932.3,311.5 932.6,311.9 932.9,312.5 933.1,312.5 933.4,312.1 933.7,311 933.9,309.5 934.2,308.3 934.5,307.2 934.8,305.9 935,305.2 935.3,304.5 935.6,303.8 935.8,303.8 936.1,304.2 936.4,304.8 936.6,305.4 936.9,306.5 937.2,307.4 937.5,308 937.7,308.7 938,309.4 938.3,309.3 938.5,309.6 938.8,309.1 939.1,308.2 939.3,307.5 939.6,306.8 939.9,306.6 940.2,306.8 940.4,306.1 940.7,306.2 941,306.2 941.2,306.4 941.5,306.4 941.8,306.1 942,306.3 942.3,306.7 942.6,307.3 942.9,307.6 943.1,308.4 943.4,309.2 943.7,310 943.9,310.5 944.2,310.8 944.5,311.1 944.7,311.5 945,311.8 945.3,311.7 945.6,311.4 945.8,310.3 946.1,309 946.4,307.6 946.6,306 946.9,304.8 947.2,304.1 947.4,303.6 947.7,303 948,302.8 948.3,303.1 948.5,303.8 948.8,304.5 949.1,305 949.3,305.2 949.6,305.5 949.9,305.8 950.1,306.4 950.4,306.6 950.7,307.3 951,307.9 951.2,308.4 951.5,308.7 951.8,309.2 952,309.7 952.3,309.4 952.6,308.7 952.8,308.1 953.1,307.8 953.4,307.5 953.7,307 953.9,306.8 954.2,306.6 954.5,306.5 954.7,306.9 955,307.4 955.3,308 955.5,308.9 955.8,310 956.1,310.3 956.4,309.9 956.6,308.7 956.9,307.8 957.2,307 957.4,306.1 957.7,305.5 958,304.7 958.2,304.5 958.5,304.3 958.8,304.8 959.1,305.5 959.3,306.3 959.6,307.4 959.9,308.3 960.1,309 960.4,309.9 960.7,311 960.9,311.9 961.2,312.7 961.5,312.4 961.8,311.8 962,310.8 962.3,309.5 962.6,308.3 962.8,307.8 963.1,307.6 963.4,307.8 963.6,308.4 963.9,309.5 964.2,310.4 964.5,310.9 964.7,311.8 965,313 965.3,313.6 965.5,314.9 965.8,314.8 966.1,312.5 966.3,309.2 966.6,304.2 966.9,301 967.2,299.7 967.4,299.3 967.7,299.7 968,300.3 968.2,300.5 968.5,301.6 968.8,303.2 969,305.2 969.3,306.9 969.6,308.6 969.9,309.9 970.1,311.6 970.4,312.6 970.7,313.3 970.9,313.4 971.2,313.4 971.5,312.9 971.7,310 972,306.1 972.3,301.7 972.6,299.6 972.8,299.1 973.1,298.7 973.4,299.2 973.6,299.8 973.9,300.7 974.2,302.4 974.4,305.2 974.7,307.9 975,310.1 975.2,311 975.5,311.3 975.8,311.5 976.1,311.3 976.3,311 976.6,310.5 976.9,310.5 977.1,310.6 977.4,311 977.7,311.1 977.9,310.6 978.2,309.5 978.5,308.4 978.8,307 979,305.1 979.3,303.7 979.6,303.5 979.8,303.7 980.1,304.3 980.4,305.1 980.6,306.1 980.9,306.7 981.2,307.5 981.5,308.9 981.7,310.7 982,312.6 982.3,313.6 982.5,313.9 982.8,312.5 983.1,309.7 983.3,307.5 983.6,306.1 983.9,305.4 984.2,304.7 984.4,304.4 984.7,304.4 985,305 985.2,305.5 985.5,306.4 985.8,307.6 986,308.5 986.3,309.2 986.6,309.4 986.9,309.2 987.1,308.7 987.4,307.7 987.7,307.1 987.9,306.7 988.2,306.4 988.5,306.2 988.7,306.2 989,306.9 989.3,307.8 989.6,308.4 989.8,309.1 990.1,309 990.4,308.6 990.6,307.9 990.9,307.3 991.2,306.6 991.4,305.8 991.7,305 992,304 992.3,303.1 992.5,302.5 992.8,302.4 993.1,302.8 993.3,303.8 993.6,305.7 993.9,307.8 994.1,309.1 994.4,309.8 994.7,310.7 995,311.2 995.2,311.4 995.5,311.2 995.8,310.3 996,309.3 996.3,308.1 996.6,306.7 996.8,305.6 997.1,305.4 997.4,305.3 997.7,305 997.9,304.8 998.2,304.7 998.5,304 998.7,303.5 999,303.5 999.3,303.6 999.5,303.9 999.8,304.5 1000.1,305.1 1000.4,305.7 1000.6,306.2 1000.9,306.7 1001.2,307.1 1001.4,307.7 1001.7,307.9 1002,307.8 1002.2,307.7 1002.5,307.4 1002.8,307.8 1003.1,308 1003.3,308.7 1003.6,309.3 1003.9,309.7 1004.1,310.1 1004.4,310.3 1004.7,310.1 1004.9,309.5 1005.2,308.5 1005.5,307.1 1005.8,306.1 1006,304.6 1006.3,304 1006.6,304.1 1006.8,304.3 1007.1,305.3 1007.4,307.1 1007.6,308.9 1007.9,309.6 1008.2,309.3 1008.5,308.9 1008.7,308.1 1009,307.3 1009.3,306.5 1009.5,305.9 1009.8,305.3 1010.1,305 1010.3,304.3 1010.6,303.9 1010.9,303.4 1011.2,303.6 1011.4,303.7 1011.7,304.3 1012,305.4 1012.2,306.7 1012.5,307.8 1012.8,309 1013,310.1 1013.3,312 1013.6,312.4 1013.8,309.9 1014.1,307.8 1014.4,306.1 1014.7,306.6 1014.9,308.3 1015.2,307.4 1015.5,307 1015.7,306.7 1016,306.6 1016.3,306.9 1016.5,307.8 1016.8,308.4 1017.1,308.6 1017.4,308.9 1017.6,309.3 1017.9,309.6 1018.2,310.1 1018.4,311.4 1018.7,312 1019,312.7 1019.2,311.6 1019.5,310.8 1019.8,308.7 1020.1,306.5 1020.3,304.5 1020.6,303.5 1020.9,303 1021.1,302.8 1021.4,302.7 1021.7,302.8 1021.9,303 1022.2,303.4 1022.5,304.1 1022.8,304.7 1023,305.5 1023.3,305.9 1023.6,305.8 1023.8,306 1024.1,306 1024.4,305.9 1024.6,305.3 1024.9,304 1025.2,302 1025.5,300.2 1025.7,299.7 1026,299.4 1026.3,299.8 1026.5,300.6 1026.8,302 1027.1,302.9 1027.3,304.7 1027.6,306.3 1027.9,307.2 1028.2,308.1 1028.4,307.9 1028.7,307.3 1029,306.9 1029.2,307 1029.5,306.9 1029.8,307.3 1030,308 1030.3,308.1 1030.6,308.2 1030.9,308.4 1031.1,308.1 1031.4,308.2 1031.7,307.5 1031.9,307.2 1032.2,307.3 1032.5,307.8 1032.7,308.4 1033,308.8 1033.3,308.3 1033.6,308.3 1033.8,308.4 1034.1,308.5 1034.4,308.2 1034.6,306.9 1034.9,305.8 1035.2,304.3 1035.4,302.9 1035.7,301.9 1036,300.6 1036.3,299.9 1036.5,299 1036.8,298.3 1037.1,298.4 1037.3,298.2 1037.6,298.3 1037.9,298.9 1038.1,301.8 1038.4,305.3 1038.7,308.8 1039,309.2 1039.2,307.7 1039.5,306.5 1039.8,306.6 1040,306.9 1040.3,306.8 1040.6,306.4 1040.8,306.5 1041.1,306.9 1041.4,306.6 1041.7,305.5 1041.9,305.2 1042.2,305.1 1042.5,304.9 1042.7,304.9 1043,305 1043.3,305.1 1043.5,305.3 1043.8,302.9 1044.1,300.7 1044.4,299.2 1044.6,299.8 1044.9,301.9 1045.2,303.7 1045.4,305 1045.7,305.9 1046,307.3 1046.2,308.5 1046.5,309 1046.8,309.7 1047.1,309.6 1047.3,309.6 1047.6,309.3 1047.9,308.3 1048.1,307.1 1048.4,305.8 1048.7,305 1048.9,304.9 1049.2,304.3 1049.5,303.7 1049.8,303.8 1050,304.3 1050.3,305 1050.6,306 1050.8,307.1 1051.1,308.4 1051.4,309.2 1051.6,308.8 1051.9,308.4 1052.2,307.5 1052.5,306 1052.7,304.6 1053,303.4 1053.3,302.5 1053.5,301.4 1053.8,301 1054.1,301.1 1054.3,301.6 1054.6,302.2 1054.9,302.8 1055.1,304 1055.4,305.5 1055.7,306.7 1056,307.3 1056.2,307.9 1056.5,308 1056.8,308.2 1057,307.9 1057.3,307.4 1057.6,307 1057.8,306.3 1058.1,305.9 1058.4,304.9 1058.7,304.7 1058.9,304.4 1059.2,304.1 1059.5,303.9 1059.7,303.8 1060,303.7 1060.3,303.8 1060.5,303.8 1060.8,303.9 1061.1,304.3 1061.4,304.6 1061.6,304.7 1061.9,305.2 1062.2,306.4 1062.4,307.1 1062.7,308 1063,308.2 1063.2,308.1 1063.5,307.4 1063.8,306.3 1064.1,305.1 1064.3,304 1064.6,303.1 1064.9,303.3 1065.1,303.4 1065.4,303.9 1065.7,304.8 1065.9,305 1066.2,304.7 1066.5,304.8 1066.8,304.5 1067,304.3 1067.3,303.3 1067.6,302.2 1067.8,301.6 1068.1,301.7 1068.4,302.9 1068.6,304 1068.9,305.7 1069.2,307.3 1069.5,308.4 1069.7,309 1070,309.1 1070.3,308.4 1070.5,307.4 1070.8,306 1071.1,304.8 1071.3,304.8 1071.6,304.4 1071.9,304.8 1072.2,304.8 1072.4,304.6 1072.7,305.1 1073,305.8 1073.2,307.3 1073.5,309.5 1073.8,311.3 1074,312.2 1074.3,312.9 1074.6,313.2 1074.9,314 1075.1,312 1075.4,310.3 1075.7,308.7 1075.9,306.6 1076.2,304.3 1076.5,302.3 1076.7,300.9 1077,301.1 1077.3,301.7 1077.6,302.4 1077.8,303.2 1078.1,304.3 1078.4,305.6 1078.6,306.7 1078.9,307.4 1079.2,307.6 1079.4,307.5 1079.7,307.3 1080,306.6 1080.3,305.8 1080.5,305.6 1080.8,305.7 1081.1,305.8 1081.3,306.4 1081.6,306.9 1081.9,307.7 1082.1,308.1 1082.4,308.8 1082.7,309.3 1083,309.3 1083.2,308.5 1083.5,307.5 1083.8,306.5 1084,305.1 1084.3,303.9 1084.6,302.7 1084.8,302.1 1085.1,301.4 1085.4,301.2 1085.7,302 1085.9,303.4 1086.2,305 1086.5,307 1086.7,308.5 1087,309.9 1087.3,310.7 1087.5,310.9 1087.8,310.7 1088.1,310.9 1088.4,310.3 1088.6,308.9 1088.9,308.1 1089.2,306.8 1089.4,305.4 1089.7,304.1 1090,302.8 1090.2,302.1 1090.5,301.5 1090.8,300.9 1091.1,300.7 1091.3,301.1 1091.6,302.4 1091.9,303.9 1092.1,305.8 1092.4,308 1092.7,309.8 1092.9,311.3 1093.2,312 1093.5,311.4 1093.8,310.6 1094,309 1094.3,307.4 1094.6,305.4 1094.8,303.2 1095.1,301.6 1095.4,300.1 1095.6,299.5 1095.9,299.4 1096.2,299.5 1096.4,300.6 1096.7,302.5 1097,304.6 1097.3,306.8 1097.5,308.8 1097.8,310.1 1098.1,310.3 1098.3,309.7 1098.6,309.5 1098.9,309 1099.1,308.6 1099.4,308.7 1099.7,308.4 1100,308.6 1100.2,305.8 1100.5,301 1100.8,296.6 1101,295.6 1101.3,295.6 1101.6,296.4 1101.8,297.5 1102.1,299.6 1102.4,302.1 1102.7,304.8 1102.9,306.7 1103.2,307.9 1103.5,308.9 1103.7,309.2 1104,309 1104.3,308.5 1104.5,306.9 1104.8,305.5 1105.1,304.4 1105.4,303.7 1105.6,303.5 1105.9,304.2 1106.2,304.9 1106.4,305.5 1106.7,306.6 1107,307.3 1107.2,308.2 1107.5,308.6 1107.8,308.4 1108.1,307.5 1108.3,306.5 1108.6,306.4 1108.9,307.6 1109.1,308.9 1109.4,310.4 1109.7,312.3 1109.9,311.6 1110.2,309.5 1110.5,307.3 1110.8,304.7 1111,302.7 1111.3,300.9 1111.6,299.2 1111.8,297.5 1112.1,295.8 1112.4,295.2 1112.6,295 1112.9,295.3 1113.2,296.9 1113.5,300.5 1113.7,306.5 1114,308.7 1114.3,309.4 1114.5,309.5 1114.8,309.9 1115.1,309.9 1115.3,309.7 1115.6,309.3 1115.9,309.4 1116.2,308.9 1116.4,307.8 1116.7,306.3 1117,305.1 1117.2,304.6 1117.5,303.2 1117.8,301.8 1118,301.3 1118.3,301.2 1118.6,301.1 1118.9,301.2 1119.1,301.3 1119.4,301.4 1119.7,301.8 1119.9,302.2 1120.2,303.5 1120.5,303.8 1120.7,304.4 1121,304.8 1121.3,305.8 1121.6,306.2 1121.8,306.7 1122.1,307.6 1122.4,308.4 1122.6,308.6 1122.9,308.3 1123.2,307.8 1123.4,307.7 1123.7,307.5 1124,307.3 1124.3,306.4 1124.5,305.6 1124.8,305.3 1125.1,304.9 1125.3,304.4 1125.6,303.8 1125.9,303.9 1126.1,304.3 1126.4,304.9 1126.7,305.2 1127,304.7 1127.2,304.7 1127.5,304.5 1127.8,304.8 1128,305.3 1128.3,305.5 1128.6,305.1 1128.8,305.2 1129.1,304.3 1129.4,302.8 1129.7,302.2 1129.9,301.7 1130.2,301.6 1130.5,302.2 1130.7,303.9 1131,305.1 1131.3,306.2 1131.5,307.4 1131.8,308.5 1132.1,308.9 1132.4,309.7 1132.6,309 1132.9,308.4 1133.2,307.1 1133.4,305.3 1133.7,302.7 1134,300.7 1134.2,300.6 1134.5,301.2 1134.8,302.9 1135.1,304.7 1135.3,305.6 1135.6,306.1 1135.9,306.4 1136.1,306.3 1136.4,306.7 1136.7,306.4 1136.9,306.7 1137.2,306.5 1137.5,305.8 1137.7,305.2 1138,304 1138.3,303.7 1138.6,304.3 1138.8,305.5 1139.1,307.1 1139.4,308.9 1139.6,309.3 1139.9,309.6 1140.2,309.1 1140.4,308.6 1140.7,307.7 1141,306.4 1141.3,304.8 1141.5,303.6 1141.8,303.1 1142.1,302.5 1142.3,302.2 1142.6,302.5 1142.9,302.9 1143.1,303.3 1143.4,304.4 1143.7,305.9 1144,307.5 1144.2,308.9 1144.5,310 1144.8,310.3 1145,310 1145.3,309.4 1145.6,307.9 1145.8,306.7 1146.1,306.2 1146.4,306.5 1146.7,306.5 1146.9,306.1 1147.2,305.4 1147.5,305 1147.7,304.5 1148,304.7 1148.3,304.4 1148.5,304.2 1148.8,303.9 1149.1,303.8 1149.4,303.8 1149.6,303.1 1149.9,303 1150.2,303.1 1150.4,303.4 1150.7,303.8 1151,303.9 1151.2,304.1 1151.5,304.6 1151.8,305.8 1152.1,306.9 1152.3,307.4 1152.6,308.1 1152.9,308.3 1153.1,308.1 1153.4,307.6 1153.7,307.2 1153.9,306.1 1154.2,305 1154.5,304 1154.8,302.9 1155,302.9 1155.3,302.2 1155.6,301.7 1155.8,301.5 1156.1,301.7 1156.4,303.3 1156.6,303.6 1156.9,303.7 1157.2,303.1 1157.5,301.5 1157.7,300 1158,299.6 1158.3,299.5 1158.5,301.3 1158.8,302 1159.1,303 1159.3,304.3 1159.6,305.7 1159.9,307.6 1160.2,308.8 1160.4,310.2 1160.7,310.6 1161,309.8 1161.2,307.5 1161.5,304.8 1161.8,303.3 1162,302.1 1162.3,302 1162.6,302.2 1162.9,302.6 1163.1,303.8 1163.4,304.3 1163.7,304.6 1163.9,305.3 1164.2,306.1 1164.5,306.8 1164.7,307.8 1165,308.3 1165.3,308.5 1165.6,309 1165.8,308.6 1166.1,308.2 1166.4,307.8 1166.6,307.3 1166.9,306.8 1167.2,305.9 1167.4,305.1 1167.7,304.3 1168,303.9 1168.3,303.7 1168.5,304.4 1168.8,305.6 1169.1,307.4 1169.3,309.1 1169.6,310.4 1169.9,311.4 1170.1,311.8 1170.4,311.8 1170.7,310.5 1171,308.3 1171.2,306.2 1171.5,304.1 1171.8,302.3 1172,301.1 1172.3,300.8 1172.6,300.7 1172.8,300.8 1173.1,301.1 1173.4,302 1173.7,303.1 1173.9,304.5 1174.2,306.3 1174.5,307.6 1174.7,308.3 1175,308.1 1175.3,307.4 1175.5,306.2 1175.8,305.1 1176.1,303.6 1176.3,302.6 1176.6,301.8 1176.9,301.6 1177.2,301.5 1177.4,301.7 1177.7,302.4 1178,302.7 1178.2,303.4 1178.5,303.9 1178.8,304.1 1179,303.8 1179.3,303.7 1179.6,303.4 1179.9,303.2 1180.1,303.5 1180.4,302.7 1180.7,302.6 1180.9,303.5 1181.2,304.5 1181.5,305.3 1181.7,305.9 1182,306.7 1182.3,308.2 1182.6,308.9 1182.8,307.9 1183.1,306.9 1183.4,305.8 1183.6,304.6 1183.9,303.5 1184.2,301.9 1184.4,301 1184.7,300.2 1185,300.1 1185.3,300.2 1185.5,300.4 1185.8,300.4 1186.1,301.2 1186.3,302.3 1186.6,303.7 1186.9,305.7 1187.1,307.6 1187.4,309.1 1187.7,309.1 1188,309.1 1188.2,309.1 1188.5,308.3 1188.8,306.6 1189,305.1 1189.3,303.6 1189.6,303.1 1189.8,302.2 1190.1,301.6 1190.4,301.6 1190.7,302.1 1190.9,302.1 1191.2,301.7 1191.5,301.3 1191.7,302.4 1192,303.3 1192.3,304.1 1192.5,305.9 1192.8,308.2 1193.1,311.5 1193.4,313.2 1193.6,313.2 1193.9,313.1 1194.2,311.9 1194.4,310 1194.7,306.6 1195,302.9 1195.2,300.1 1195.5,298.5 1195.8,297.8 1196.1,297.7 1196.3,298 1196.6,299.2 1196.9,301.3 1197.1,303.4 1197.4,305.9 1197.7,308.1 1197.9,308.7 1198.2,309 1198.5,308.3 1198.8,307.8 1199,306.9 1199.3,306.5 1199.6,306.5 1199.8,306.2 1200.1,305.4 1200.4,305.1 1200.6,304.4 1200.9,303.8 1201.2,303.7 1201.5,303.8 1201.7,304.2 1202,305.4 1202.3,306.5 1202.5,307.6 1202.8,308.1 1203.1,307.2 1203.3,306.2 1203.6,305.2 1203.9,304.5 1204.2,303.9 1204.4,303.2 1204.7,302.6 1205,302.3 1205.2,301.9 1205.5,301.3 1205.8,301.2 1206,301.5 1206.3,302.2 1206.6,302.9 1206.9,303.6 1207.1,304.1 1207.4,304.4 1207.7,305 1207.9,306.2 1208.2,307.1 1208.5,307.8 1208.7,307.8 1209,307 1209.3,305.9 1209.6,304.5 1209.8,303 1210.1,301.2 1210.4,299.6 1210.6,299 1210.9,298.5 1211.2,299 1211.4,300.8 1211.7,304.5 1212,308.6 1212.3,312.1 1212.5,313.5 1212.8,312.7 1213.1,310.5 1213.3,308.2 1213.6,305.7 1213.9,303.6 1214.1,302 1214.4,301 1214.7,300.3 1215,300.2 1215.2,301.2 1215.5,302.1 1215.8,302.9 1216,303.3 1216.3,304.4 1216.6,305.8 1216.8,306.6 1217.1,307.6 1217.4,307.6 1217.6,307.5 1217.9,306.9 1218.2,306.2 1218.5,303.8 1218.7,302.3 1219,301.7 1219.3,302.4 1219.5,303.2 1219.8,303.9 1220.1,304.2 1220.3,304.7 1220.6,305.4 1220.9,306.3 1221.2,307.3 1221.4,307.9 1221.7,307.6 1222,307.1 1222.2,307 1222.5,307.2 1222.8,306.9 1223,307.2 1223.3,307.9 1223.6,308.5 1223.9,308.3 1224.1,308 1224.4,307.9 1224.7,308.4 1224.9,308.3 1225.2,307.8 1225.5,307.5 1225.7,307.5 1226,307.6 1226.3,307.2 1226.6,306.4 1226.8,305.7 1227.1,305.1 1227.4,305 1227.6,304.6 1227.9,303.6 1228.2,303.4 1228.4,303.2 1228.7,303.2 1229,303.7 1229.3,303.8 1229.5,303.9 1229.8,304 1230.1,304.3 1230.3,304.6 1230.6,305.2 1230.9,305.2 1231.1,305 1231.4,304.5 1231.7,304.5 1232,305 1232.2,305.5 1232.5,306.2 1232.8,306.6 1233,306.5 1233.3,306.8 1233.6,306.9 1233.8,307.3 1234.1,308.4 1234.4,308.6 1234.7,308.9 1234.9,308.8 1235.2,308.7 1235.5,306.8 1235.7,304.5 1236,300.7 1236.3,298 1236.5,297 1236.8,297.6 1237.1,299.2 1237.4,301.6 1237.6,303.5 1237.9,304 1238.2,304.1 1238.4,304 1238.7,303.8 1239,303.9 1239.2,304.1 1239.5,304.8 1239.8,306.2 1240.1,306.9 1240.3,307.4 1240.6,307.8 1240.9,307.8 1241.1,307.7 1241.4,306.6 1241.7,305.6 1241.9,304.7 1242.2,303.1 1242.5,301.9 1242.8,301.8 1243,301.9 1243.3,303.2 1243.6,305.3 1243.8,307.3 1244.1,308.7 1244.4,309.8 1244.6,310.8 1244.9,311.3 1245.2,311.3 1245.5,311.3 1245.7,311.1 1246,309.3 1246.3,307.2 1246.5,305.1 1246.8,303.4 1247.1,301.9 1247.3,301 1247.6,300.9 1247.9,301.1 1248.2,301.4 1248.4,302.3 1248.7,303.4 1249,304.2 1249.2,304.7 1249.5,306 1249.8,306.9 1250,307.9 1250.3,308.3 1250.6,308.4 1250.9,308.3 1251.1,307.6 1251.4,307.1 1251.7,307.1 1251.9,307.6 1252.2,307.5 1252.5,306.5 1252.7,303.1 1253,301.3 1253.3,299.9 1253.6,298.4 1253.8,297.2 1254.1,297.4 1254.4,298.1 1254.6,299.9 1254.9,302.1 1255.2,304.7 1255.4,306.7 1255.7,306.5 1256,306.9 1256.3,306.5 1256.5,306.6 1256.8,306.7 1257.1,306.3 1257.3,305.6 1257.6,304.7 1257.9,304 1258.1,303.6 1258.4,302.5 1258.7,300.3 1258.9,299 1259.2,298.5 1259.5,297.8 1259.8,299 1260,302.6 1260.3,306.6 1260.6,309.2 1260.8,309.6 1261.1,307.8 1261.4,306.8 1261.6,305.7 1261.9,305.6 1262.2,305.3 1262.5,305.2 1262.7,304.8 1263,303.9 1263.3,303 1263.5,303.2 1263.8,303.6 1264.1,303.2 1264.3,303.5 1264.6,304.4 1264.9,304.9 1265.2,305.3 1265.4,305.7 1265.7,305.6 1266,305.6 1266.2,304.8 1266.5,304.3 1266.8,304.2 1267,304 1267.3,304.1 1267.6,304.5 1267.9,305.2 1268.1,306.4 1268.4,307.2 1268.7,307.4 1268.9,307.7 1269.2,307.9 1269.5,306.9 1269.7,305.9 1270,304.5 1270.3,303.2 1270.6,302.3 1270.8,302.3 1271.1,302.7 1271.4,303 1271.6,303.2 1271.9,303.6 1272.2,304.3 1272.4,306 1272.7,307 1273,307.5 1273.3,308 1273.5,308 1273.8,307.8 1274.1,306.7 1274.3,304.9 1274.6,303.5 1274.9,302.1 1275.1,301.3 1275.4,300.7 1275.7,300.5 1276,301 1276.2,301.4 1276.5,301.7 1276.8,303.7 1277,306.3 1277.3,308.6 1277.6,310.9 1277.8,310.8 1278.1,309.9 1278.4,308 1278.7,305.4 1278.9,303.7 1279.2,303 1279.5,302.7 1279.7,301.4 1280,300.5 1280.3,300.3 1280.5,300.5 1280.8,302.1 1281.1,303.1 1281.4,304.8 1281.6,306 1281.9,306.9 1282.2,307 1282.4,307.2 1282.7,306 1283,304.7 1283.2,304.1 1283.5,304.3 1283.8,305.1 1284.1,305.6 1284.3,306.5 1284.6,307.5 1284.9,308.1 1285.1,309.1 1285.4,310.1 1285.7,310.4 1285.9,310.1 1286.2,309.2 1286.5,307.9 1286.8,306.5 1287,305.2 1287.3,303.9 1287.6,303 1287.8,302.8 1288.1,303.2 1288.4,303.9 1288.6,304.5 1288.9,305 1289.2,306 1289.5,306.7 1289.7,306.9 1290,307.2 1290.3,307.9 1290.5,307.6 1290.8,307.7 1291.1,307.3 1291.3,307.1 1291.6,306.9 1291.9,306.1 1292.2,303.4 1292.4,299 1292.7,295.7 1293,294.8 1293.2,295.5 1293.5,297 1293.8,300.1 1294,302.4 1294.3,303.9 1294.6,305 1294.9,306.6 1295.1,307.5 1295.4,308 1295.7,308.6 1295.9,308.5 1296.2,308.2 1296.5,307.6 1296.7,306.7"/>
<polyline fill="none" stroke="#0000ff" stroke-width="4.4" stroke-linecap="round" points="325.2,304.6 341.4,304.6 357.6,304.6 373.8,304.5 390,304.5 406.2,304.5 422.4,304.5 438.6,304.4 454.8,304.4 471,304.4 487.2,304.4 503.4,304.3 519.6,304.3 535.8,304.3 552,304.3 568.2,304.3 584.4,304.2 600.6,304.2 616.8,304.2 633,304.2 649.2,304.1 665.4,304.1 681.6,304.1 697.8,304.1 714,304.1 730.2,304 746.3,304 762.5,304 778.7,304 794.9,303.9 811.1,303.9 827.3,303.9 843.5,303.9 859.7,303.8 875.9,303.8 892.1,303.8 908.3,303.8 924.5,303.8 940.7,303.7 956.9,303.7 973.1,303.7 989.3,303.7 1005.5,303.6 1021.7,303.6 1037.9,303.4 1054.1,302.9 1070.3,302.9 1086.5,302.9 1102.7,302.9 1118.9,302.8 1135.1,302.8 1151.2,302.8 1167.4,302.8 1183.6,302.8 1199.8,302.8 1216,302.8 1232.2,302.8 1248.4,302.7 1264.6,302.7 1280.8,302.7 1296.7,302.7"/>
<polyline fill="none" stroke="#000" stroke-width="1.1" stroke-linejoin="miter" stroke-miterlimit="2" points="325.2,487.1 325.5,476 325.8,493.2 326.1,474.7 326.3,465.9 326.6,461.8 326.9,470 327.1,475.3 327.4,533.3 327.7,551.2 327.9,553.9 328.2,503.9 328.5,454.2 328.8,454.4 329,498.4 329.3,551.7 329.6,558.6 329.8,545.2 330.1,464.4 330.4,448.6 330.6,476.3 330.9,537.4 331.2,547.8 331.5,536.4 331.7,486.7 332,481.1 332.3,487.3 332.5,483.3 332.8,482 333.1,490.4 333.3,508.2 333.6,541.4 333.9,531.1 334.2,515.7 334.4,520.8 334.7,497.4 335,521.5 335.2,538.3 335.5,518.2 335.8,476.2 336,474.5 336.3,494 336.6,506.1 336.9,517.7 337.1,533.6 337.4,518.3 337.7,497.9 337.9,486.8 338.2,476.5 338.5,482.6 338.7,511.5 339,528.9 339.3,494.8 339.6,491.5 339.8,501.2 340.1,527.7 340.4,526.2 340.6,530.1 340.9,512.9 341.2,487.8 341.4,491.2 341.7,518.2 342,543.5 342.3,540.7 342.5,531.9 342.8,515.5 343.1,503.9 343.3,506.1 343.6,498 343.9,481.5 344.1,508.2 344.4,538.7 344.7,537.8 345,531.2 345.2,515.4 345.5,496.6 345.8,478.5 346,472.1 346.3,491.6 346.6,519.4 346.8,535.1 347.1,533.8 347.4,528.1 347.7,530.3 347.9,523.1 348.2,494.4 348.5,478.3 348.7,502.7 349,529.6 349.3,537.4 349.5,524.9 349.8,513.8 350.1,489.9 350.4,486 350.6,492 350.9,494.3 351.2,530.1 351.4,539.7 351.7,509.8 352,481.5 352.2,466.5 352.5,472.4 352.8,510.1 353.1,532.1 353.3,518.7 353.6,477.5 353.9,457 354.1,477.6 354.4,510 354.7,545.5 354.9,549.6 355.2,530 355.5,479.2 355.8,457.7 356,458.6 356.3,488.6 356.6,520.7 356.8,525 357.1,517.3 357.4,523.9 357.6,510.7 357.9,486.2 358.2,414.6 358.5,473.8 358.7,511.7 359,587.6 359.3,511.5 359.5,480.4 359.8,445.9 360.1,462 360.3,463.3 360.6,548.9 360.9,554.5 361.2,547.1 361.4,464.8 361.7,451.8 362,453.6 362.2,509.9 362.5,557.4 362.8,549.1 363,493.1 363.3,468.7 363.6,439.2 363.9,456.3 364.1,476.8 364.4,531.9 364.7,560.9 364.9,550.2 365.2,531.5 365.5,483.2 365.7,508.8 366,517.8 366.3,528.1 366.5,539.3 366.8,521.1 367.1,500.7 367.4,499.6 367.6,487.4 367.9,485.8 368.2,490.6 368.4,480.6 368.7,492.4 369,493 369.2,509.7 369.5,508.8 369.8,497.9 370.1,504.8 370.3,587.6 370.6,552.7 370.9,551.5 371.1,513.9 371.4,478 371.7,473.9 371.9,486.2 372.2,493.7 372.5,488.2 372.8,503.7 373,509 373.3,497 373.6,511 373.8,516.4 374.1,527.3 374.4,521.6 374.6,504.2 374.9,517.6 375.2,531.3 375.5,534.2 375.7,519.4 376,508.5 376.3,492.3 376.5,503.7 376.8,519.6 377.1,513.6 377.3,500.6 377.6,491.7 377.9,494.6 378.2,493 378.4,477.2 378.7,491.9 379,523.2 379.2,543.7 379.5,513.6 379.8,496.1 380,511.1 380.3,513.4 380.6,495.4 380.9,506.5 381.1,517.3 381.4,536.1 381.7,538.2 381.9,497.5 382.2,472 382.5,477.3 382.7,503.5 383,517.9 383.3,524.7 383.6,533.9 383.8,538.3 384.1,493.9 384.4,479.3 384.6,472.7 384.9,497.7 385.2,504.4 385.4,505.2 385.7,506.5 386,479.5 386.3,489.2 386.5,515.6 386.8,541.6 387.1,547.7 387.3,534.6 387.6,518.2 387.9,504.1 388.1,470.3 388.4,496.3 388.7,546.6 389,573.6 389.2,553.5 389.5,492.2 389.8,442.6 390,451.1 390.3,475.3 390.6,480.3 390.8,528.6 391.1,571.6 391.4,556.4 391.7,516.5 391.9,477.3 392.2,485.6 392.5,538.2 392.7,554.9 393,552.9 393.3,533.1 393.5,522.7 393.8,472.3 394.1,457.9 394.4,450 394.6,477.7 394.9,533.4 395.2,553.6 395.4,545.1 395.7,516 396,488.7 396.2,529.2 396.5,547.1 396.8,521.2 397.1,536.2 397.3,535.7 397.6,501.2 397.9,459.2 398.1,460.5 398.4,478.3 398.7,476.9 398.9,468.1 399.2,493.8 399.5,539 399.8,528.4 400,497.8 400.3,494.9 400.6,505.5 400.8,506.9 401.1,513.7 401.4,516.8 401.6,522.3 401.9,546.1 402.2,499.4 402.5,453.3 402.7,438.6 403,457 403.3,519 403.5,547 403.8,525.5 404.1,539.3 404.3,519.4 404.6,522.8 404.9,516.1 405.2,521.4 405.4,475.3 405.7,456.1 406,470.9 406.2,476.1 406.5,501.3 406.8,544.3 407,551 407.3,539.4 407.6,505 407.8,464.8 408.1,464.9 408.4,494.1 408.7,502.5 408.9,502.3 409.2,483.8 409.5,481.6 409.7,531 410,565.2 410.3,574.5 410.5,535.6 410.8,455.9 411.1,424.6 411.4,498 411.6,542.3 411.9,549.9 412.2,522.8 412.4,511 412.7,527.1 413,486.5 413.2,494.2 413.5,507.7 413.8,483.4 414.1,583.6 414.3,528 414.6,512.2 414.9,501 415.1,488 415.4,522 415.7,567 415.9,534.7 416.2,486.3 416.5,450.4 416.8,443.3 417,462.7 417.3,505.6 417.6,523.2 417.8,485.4 418.1,465.2 418.4,453.1 418.6,477.3 418.9,528 419.2,543.2 419.5,526.4 419.7,481.4 420,444.7 420.3,443.5 420.5,467.9 420.8,488 421.1,506.9 421.3,512.8 421.6,501.4 421.9,503.8 422.2,530 422.4,530.4 422.7,522.9 423,520.4 423.2,510.4 423.5,503.2 423.8,512 424,548.1 424.3,550.8 424.6,485.9 424.9,451.2 425.1,453.6 425.4,467.8 425.7,508.1 425.9,548.5 426.2,556.9 426.5,522.8 426.7,512.8 427,498.8 427.3,486 427.6,461.6 427.8,481.2 428.1,507.4 428.4,537.6 428.6,549 428.9,576.6 429.2,562.8 429.4,499.9 429.7,457.5 430,457.9 430.3,457.6 430.5,471.3 430.8,544.2 431.1,563.6 431.3,551.4 431.6,477 431.9,465.2 432.1,469.9 432.4,481.3 432.7,524.6 433,541.8 433.2,555 433.5,540 433.8,537.7 434,522.6 434.3,472.8 434.6,463.4 434.8,473.7 435.1,507.2 435.4,498.6 435.7,486.4 435.9,477.7 436.2,493 436.5,522.6 436.7,543.2 437,537.7 437.3,524.2 437.5,484.1 437.8,467.4 438.1,475 438.4,515.4 438.6,558.7 438.9,561.6 439.2,533 439.4,469.8 439.7,486.6 440,545.4 440.2,552.1 440.5,545.6 440.8,513.8 441.1,487.8 441.3,472.7 441.6,510.7 441.9,540.7 442.1,528.9 442.4,501.2 442.7,492.5 442.9,488.8 443.2,491.3 443.5,518.1 443.8,518.3 444,498.3 444.3,489.6 444.6,479.6 444.8,508.4 445.1,512.6 445.4,516 445.6,523.1 445.9,526 446.2,496.5 446.5,485.5 446.7,498 447,523.1 447.3,533.1 447.5,517.6 447.8,465.4 448.1,458.6 448.3,462.3 448.6,488.7 448.9,533.3 449.1,545.7 449.4,545.7 449.7,497.6 450,468.7 450.2,479.2 450.5,517 450.8,531.2 451,533.6 451.3,517.9 451.6,489.3 451.8,466.2 452.1,484.7 452.4,514.3 452.7,534.2 452.9,537.9 453.2,491.6 453.5,462.9 453.7,469.4 454,490.6 454.3,522.8 454.5,514 454.8,510.5 455.1,497.1 455.4,497 455.6,501.4 455.9,512 456.2,524.3 456.4,520.4 456.7,488.4 457,485.6 457.2,505.3 457.5,513.8 457.8,524 458.1,507.6 458.3,479 458.6,516 458.9,540.8 459.1,555.6 459.4,519.4 459.7,466.3 459.9,469.5 460.2,512.1 460.5,534.8 460.8,538.6 461,509.6 461.3,465.1 461.6,457.7 461.8,460.3 462.1,475.3 462.4,514.3 462.6,538.6 462.9,543.2 463.2,513.6 463.5,464.7 463.7,446.6 464,467.7 464.3,525.5 464.5,542.3 464.8,515.1 465.1,474.1 465.3,464.4 465.6,496.4 465.9,517.5 466.2,515.1 466.4,525.3 466.7,482.6 467,482.6 467.2,480.1 467.5,496.5 467.8,513.4 468,530.6 468.3,535 468.6,510.2 468.9,485 469.1,487.4 469.4,483.4 469.7,477.7 469.9,489.6 470.2,504.7 470.5,479 470.7,480.9 471,491.3 471.3,497.8 471.6,532.4 471.8,551.6 472.1,546 472.4,492.4 472.6,462.2 472.9,468.4 473.2,516.8 473.4,528 473.7,529.2 474,537 474.3,515.6 474.5,482.8 474.8,473.3 475.1,470.8 475.3,470.6 475.6,484 475.9,513.2 476.1,550.3 476.4,547.1 476.7,522 477,471.3 477.2,461.6 477.5,465.8 477.8,480.2 478,521 478.3,540.3 478.6,541.7 478.8,526.7 479.1,495.4 479.4,472.9 479.7,482.7 479.9,496.7 480.2,482 480.5,507.5 480.7,531.6 481,533.9 481.3,498.5 481.5,463.6 481.8,459.7 482.1,468.9 482.4,540 482.6,561.6 482.9,552.5 483.2,505.1 483.4,480.9 483.7,462.4 484,476.5 484.2,511.5 484.5,523.5 484.8,548.2 485.1,542.4 485.3,490.3 485.6,485.2 485.9,466.8 486.1,535.9 486.4,460.9 486.7,460.6 486.9,459.3 487.2,556.6 487.5,558.5 487.7,575.2 488,455.8 488.3,442.9 488.6,417 488.8,558.6 489.1,584 489.4,611.7 489.6,449.6 489.9,422 490.2,390.6 490.4,558 490.7,589.7 491,618.6 491.3,530 491.5,433.2 491.8,417 492.1,469.6 492.3,564.9 492.6,575.2 492.9,459 493.1,465 493.4,459.3 493.7,497.1 494,533.3 494.2,535.9 494.5,538.6 494.8,522.8 495,490.3 495.3,534.3 495.6,515 495.8,471.1 496.1,481.6 496.4,480.6 496.7,479.5 496.9,481.6 497.2,474.4 497.5,513.3 497.7,526.7 498,538.6 498.3,489.8 498.5,478 498.8,508.1 499.1,513.9 499.4,498.2 499.6,491.8 499.9,494 500.2,493.3 500.4,467.7 500.7,486 501,530.2 501.2,552.7 501.5,545.4 501.8,513.9 502.1,509.3 502.3,500 502.6,524.7 502.9,537.9 503.1,535.4 503.4,517.1 503.7,469.8 503.9,451 504.2,451 504.5,458 504.8,508.8 505,527.8 505.3,527.7 505.6,508.4 505.8,488.5 506.1,517.5 506.4,543 506.6,542.6 506.9,512.7 507.2,486.3 507.5,499.9 507.7,541.8 508,545 508.3,549.7 508.5,549.2 508.8,524.9 509.1,490 509.3,491.8 509.6,545 509.9,549.9 510.2,508.1 510.4,484.7 510.7,490.9 511,552.3 511.2,549.2 511.5,541.2 511.8,497.3 512,483 512.3,491.7 512.6,512.3 512.9,554.6 513.1,501.5 513.4,496.9 513.7,494.2 513.9,518.7 514.2,532.8 514.5,498.1 514.7,515 515,525.2 515.3,510.1 515.6,494.2 515.8,485.6 516.1,505.9 516.4,549.4 516.6,578.6 516.9,553.2 517.2,495.9 517.4,461.5 517.7,443.6 518,466.2 518.3,509.9 518.5,537.5 518.8,558.1 519.1,538.3 519.3,513.8 519.6,498 519.9,455.8 520.1,474.1 520.4,512.9 520.7,533 521,530.7 521.2,510.1 521.5,505.2 521.8,465.9 522,499.3 522.3,549.8 522.6,534.3 522.8,487 523.1,483.2 523.4,514.7 523.7,538.8 523.9,479.7 524.2,452.9 524.5,481.7 524.7,523.5 525,551.3 525.3,516.5 525.5,470.2 525.8,448.1 526.1,457.7 526.4,457.9 526.6,482.7 526.9,514.8 527.2,551 527.4,555.1 527.7,524.6 528,492.1 528.2,441.4 528.5,442.6 528.8,499.2 529,538.2 529.3,550.9 529.6,530.8 529.9,493.2 530.1,494.7 530.4,468.9 530.7,474.3 530.9,471.1 531.2,503.1 531.5,553.4 531.7,568.6 532,557.5 532.3,518.8 532.6,467.9 532.8,452.3 533.1,424.6 533.4,539.8 533.6,557 533.9,555.8 534.2,467.2 534.4,441.7 534.7,445.7 535,459.4 535.3,484.4 535.5,500.1 535.8,481.4 536.1,488.6 536.3,510.7 536.6,541.9 536.9,530.4 537.1,535.6 537.4,531.2 537.7,501.5 538,495.7 538.2,490.1 538.5,464.4 538.8,487.5 539,489 539.3,520.2 539.6,545.9 539.8,539.5 540.1,485.4 540.4,478.5 540.7,503.8 540.9,534.5 541.2,545.3 541.5,532.6 541.7,515.4 542,500.9 542.3,489.9 542.5,499.1 542.8,489.1 543.1,508.4 543.4,533.4 543.6,497.5 543.9,467.2 544.2,467.4 544.4,477 544.7,505.9 545,539.5 545.2,533.6 545.5,501 545.8,467 546.1,492.9 546.3,516.9 546.6,523 546.9,533.7 547.1,534 547.4,526.4 547.7,536.8 547.9,539.2 548.2,501.5 548.5,512.8 548.8,528.1 549,556.8 549.3,551.6 549.6,530.8 549.8,474.3 550.1,460.6 550.4,501.9 550.6,535.3 550.9,552.8 551.2,525.7 551.5,480.3 551.7,477.8 552,463.3 552.3,484.9 552.5,493.3 552.8,506.9 553.1,519.6 553.3,488.3 553.6,471.3 553.9,478.1 554.2,508.8 554.4,526.8 554.7,523.8 555,522.4 555.2,541.8 555.5,569.5 555.8,568.2 556,535.1 556.3,451.4 556.6,432.6 556.9,445.1 557.1,581.6 557.4,501.7 557.7,567 557.9,561.3 558.2,536.7 558.5,496 558.7,450 559,445.1 559.3,449.5 559.6,535.9 559.8,570.9 560.1,544.7 560.4,524.9 560.6,488.7 560.9,467.9 561.2,546.6 561.4,532.7 561.7,526.6 562,512.2 562.3,458.8 562.5,493.6 562.8,523.8 563.1,544.9 563.3,535.3 563.6,532.8 563.9,475.6 564.1,487.2 564.4,495.9 564.7,498.2 565,506.5 565.2,523 565.5,528.1 565.8,492.4 566,472.8 566.3,478.9 566.6,530.2 566.8,547.3 567.1,523.2 567.4,494.3 567.7,463.5 567.9,499.5 568.2,485.6 568.5,492.6 568.7,531.2 569,561.6 569.3,537.7 569.5,489.2 569.8,466.5 570.1,473.3 570.3,502.2 570.6,523.7 570.9,514.6 571.2,485.1 571.4,479.7 571.7,520 572,517.4 572.2,510.9 572.5,523.3 572.8,497.2 573,473.6 573.3,512 573.6,546.9 573.9,550.5 574.1,542 574.4,512.8 574.7,460.7 574.9,460.6 575.2,459.9 575.5,496.4 575.7,538.4 576,544.1 576.3,543.6 576.6,505.6 576.8,472.1 577.1,468.1 577.4,474.3 577.6,517.9 577.9,513.5 578.2,505 578.4,492.5 578.7,502.9 579,495.5 579.3,482.8 579.5,495.4 579.8,503.3 580.1,516.5 580.3,533.5 580.6,534.9 580.9,506.4 581.1,475.6 581.4,464.8 581.7,484.6 582,524.3 582.2,537.1 582.5,519.7 582.8,494.9 583,499.1 583.3,529.4 583.6,519.2 583.8,485.4 584.1,482.8 584.4,478.1 584.7,490.6 584.9,505.4 585.2,496.7 585.5,505.8 585.7,520.8 586,539.6 586.3,530.5 586.5,501.1 586.8,470 587.1,444.6 587.4,483.7 587.6,500.2 587.9,529.8 588.2,526.6 588.4,505.4 588.7,489.7 589,470.1 589.2,471.4 589.5,476.1 589.8,492 590.1,513.9 590.3,498.4 590.6,480.1 590.9,484.8 591.1,501.3 591.4,527.5 591.7,531.8 591.9,522.8 592.2,499.5 592.5,492.7 592.8,486.8 593,495.7 593.3,525.4 593.6,533.6 593.8,532 594.1,525.7 594.4,509 594.6,483.7 594.9,491.8 595.2,526 595.5,533.7 595.7,494.2 596,474.5 596.3,475 596.5,502.6 596.8,515.6 597.1,503 597.3,498.5 597.6,484.6 597.9,504.8 598.2,516.9 598.4,530.2 598.7,525.4 599,514.6 599.2,496.3 599.5,503.4 599.8,506.2 600,508.4 600.3,514.9 600.6,525.9 600.9,531.7 601.1,526.5 601.4,504.4 601.7,487.5 601.9,483.4 602.2,480.3 602.5,495.9 602.7,512.9 603,508 603.3,496.2 603.6,484.5 603.8,493.9 604.1,477.3 604.4,483.2 604.6,513.4 604.9,518.2 605.2,487.6 605.4,459.6 605.7,464.9 606,482.4 606.3,505.9 606.5,522.9 606.8,511.2 607.1,486.3 607.3,477.4 607.6,460.7 607.9,478.5 608.1,485.6 608.4,463.7 608.7,437.6 608.9,455.9 609.2,507.9 609.5,545 609.8,545.8 610,482.3 610.3,458.2 610.6,500.6 610.8,520 611.1,510.5 611.4,536.8 611.6,538.1 611.9,512.3 612.2,518.9 612.5,489.5 612.7,514.6 613,493.8 613.3,481.9 613.5,506.1 613.8,547.4 614.1,544.6 614.3,538.1 614.6,491 614.9,476 615.2,492.2 615.4,485.7 615.7,518.5 616,537.3 616.2,521.4 616.5,495 616.8,459.6 617,441.2 617.3,460.1 617.6,511 617.9,563.3 618.1,564.3 618.4,542.5 618.7,473.1 618.9,435.5 619.2,474 619.5,508.9 619.7,544.4 620,420.6 620.3,556.1 620.6,527.7 620.8,512 621.1,538 621.4,548.5 621.6,501.7 621.9,456.7 622.2,436.3 622.4,463.6 622.7,537.7 623,563.1 623.3,551.3 623.5,492.1 623.8,433.3 624.1,429.4 624.3,454.4 624.6,493.3 624.9,550.6 625.1,579.6 625.4,550.6 625.7,481.6 626,450 626.2,444.3 626.5,479.8 626.8,535.4 627,541.2 627.3,511.7 627.6,463.3 627.8,455.5 628.1,474.2 628.4,556 628.7,555.7 628.9,551.6 629.2,520.2 629.5,446.3 629.7,441.6 630,503.1 630.3,529.8 630.5,539.8 630.8,531.2 631.1,510.3 631.4,473.1 631.6,457.2 631.9,476.1 632.2,490.5 632.4,530.1 632.7,527.7 633,526.7 633.2,491.7 633.5,493.2 633.8,509.3 634.1,485.3 634.3,508.2 634.6,543.4 634.9,536.8 635.1,514.8 635.4,502.4 635.7,499.7 635.9,455.6 636.2,476.7 636.5,524.2 636.8,538.9 637,549.1 637.3,531.8 637.6,482.7 637.8,485.2 638.1,470.8 638.4,514.6 638.6,539.3 638.9,530.2 639.2,437.6 639.5,452.6 639.7,491.8 640,472.4 640.3,494.3 640.5,487.2 640.8,492.2 641.1,538.1 641.3,539.6 641.6,540.6 641.9,519.3 642.2,528.2 642.4,503.2 642.7,543.6 643,551.2 643.2,498.4 643.5,455.3 643.8,462.9 644,504.1 644.3,547 644.6,487.1 644.9,461.4 645.1,467.8 645.4,520.4 645.7,576.6 645.9,539.2 646.2,519.5 646.5,514.8 646.7,519.5 647,524.4 647.3,512.5 647.6,509.8 647.8,512 648.1,529.8 648.4,494.4 648.6,478 648.9,489.7 649.2,505.3 649.4,515.7 649.7,551 650,549.7 650.2,485.6 650.5,451.2 650.8,432.6 651.1,480.3 651.3,560 651.6,563.6 651.9,542.9 652.1,487.1 652.4,477.5 652.7,468.7 652.9,490 653.2,524.7 653.5,529.5 653.8,518.5 654,505.7 654.3,492.2 654.6,510.4 654.8,521.9 655.1,503.4 655.4,519.2 655.6,528.2 655.9,543.7 656.2,515.8 656.5,478.2 656.7,459.6 657,458.1 657.3,468.4 657.5,489.8 657.8,538.9 658.1,535.1 658.3,531.8 658.6,471.4 658.9,456 659.2,462.9 659.4,522.9 659.7,540.5 660,508.5 660.2,514.8 660.5,522.9 660.8,530.1 661,531 661.3,491.1 661.6,453 661.9,466 662.1,493.6 662.4,530 662.7,517.4 662.9,541.1 663.2,541.5 663.5,501.4 663.7,487.6 664,472.1 664.3,489.1 664.6,500.5 664.8,503.1 665.1,513.6 665.4,530.9 665.6,528.4 665.9,496.7 666.2,478.3 666.4,494.5 666.7,459.6 667,491.4 667.3,528.6 667.5,532.3 667.8,532.5 668.1,519.9 668.3,503.1 668.6,521.7 668.9,516.5 669.1,524.4 669.4,530.9 669.7,498.3 670,499.9 670.2,492.9 670.5,476.9 670.8,470.4 671,478 671.3,507.9 671.6,547.6 671.8,546.4 672.1,512.9 672.4,485.6 672.7,497.7 672.9,494 673.2,520.3 673.5,520.7 673.7,521.7 674,537.7 674.3,502.3 674.5,472 674.8,467.5 675.1,507.9 675.4,539.3 675.6,539.6 675.9,526 676.2,477.9 676.4,491.9 676.7,501 677,536.3 677.2,567.6 677.5,551.5 677.8,516.9 678.1,484.1 678.3,483.9 678.6,511.1 678.9,541.8 679.1,547.8 679.4,539.4 679.7,512.1 679.9,491.7 680.2,516.3 680.5,533 680.8,514.8 681,501.7 681.3,495.4 681.6,505.7 681.8,522.4 682.1,525 682.4,527 682.6,519.4 682.9,520.4 683.2,513.2 683.5,517 683.7,507.3 684,492.1 684.3,507.1 684.5,510.9 684.8,516.8 685.1,503.4 685.3,501 685.6,509.1 685.9,515.7 686.2,501.2 686.4,517.3 686.7,512.7 687,506.4 687.2,505.9 687.5,509.9 687.8,501.9 688,491.9 688.3,483 688.6,497.5 688.9,529.7 689.1,549.6 689.4,529.9 689.7,511.3 689.9,486.1 690.2,465.6 690.5,477 690.7,517.9 691,532.8 691.3,533.9 691.5,517.3 691.8,491.9 692.1,485.4 692.4,493.4 692.6,510 692.9,513.5 693.2,509.8 693.4,493.7 693.7,507.6 694,522.5 694.2,525.7 694.5,512.4 694.8,498.2 695.1,493.5 695.3,505.5 695.6,516.3 695.9,515.7 696.1,508.6 696.4,506.1 696.7,504.6 696.9,499 697.2,508.7 697.5,509 697.8,508.3 698,511.8 698.3,507.3 698.6,502.2 698.8,492.1 699.1,502.7 699.4,503.2 699.6,521.2 699.9,521.2 700.2,504.5 700.5,492.6 700.7,487.2 701,505 701.3,505.8 701.5,516.9 701.8,532.6 702.1,531.4 702.3,515.5 702.6,513.1 702.9,494.5 703.2,491.8 703.4,491.7 703.7,528.9 704,554.9 704.2,553.8 704.5,538.4 704.8,508.6 705,476.4 705.3,467.1 705.6,457.6 705.9,475.4 706.1,527.9 706.4,545.4 706.7,544.5 706.9,510.1 707.2,503.3 707.5,479.4 707.7,475.1 708,500.8 708.3,547.3 708.6,550.5 708.8,538.1 709.1,501.1 709.4,493.1 709.6,505.7 709.9,505.6 710.2,483.5 710.4,505.6 710.7,530.1 711,527.9 711.3,519.3 711.5,515.8 711.8,473.6 712.1,480 712.3,499.1 712.6,532.9 712.9,540.8 713.1,571.6 713.4,531.7 713.7,493.3 714,493.8 714.2,474.4 714.5,486.1 714.8,524.1 715,549.2 715.3,530 715.6,496.8 715.8,485.9 716.1,518 716.4,546.4 716.7,539.1 716.9,513.8 717.2,527 717.5,538.5 717.7,526.5 718,466 718.3,465.1 718.5,529.9 718.8,549 719.1,548.1 719.4,542.3 719.6,505 719.9,480.6 720.2,499.4 720.4,539.7 720.7,546.8 721,533.2 721.2,530.6 721.5,497.2 721.8,504.7 722.1,483.8 722.3,480.5 722.6,499.3 722.9,516.2 723.1,533.2 723.4,533.4 723.7,483.3 723.9,475.8 724.2,474.7 724.5,518 724.8,543 725,524 725.3,524.6 725.6,507.1 725.8,544.4 726.1,557.9 726.4,554.8 726.6,497.6 726.9,462.2 727.2,469.6 727.5,519.5 727.7,546.4 728,559.7 728.3,546.8 728.5,471.9 728.8,455.6 729.1,465 729.3,526.9 729.6,561 729.9,562.6 730.2,545.5 730.4,475.9 730.7,465.1 731,481.9 731.2,516 731.5,517.8 731.8,524.4 732,527.7 732.3,517.3 732.6,535.8 732.8,529.5 733.1,498.8 733.4,468 733.7,468.2 733.9,493.4 734.2,535.8 734.5,538 734.7,509.5 735,499.9 735.3,495.9 735.5,491.6 735.8,527 736.1,521.8 736.4,509.4 736.6,487.3 736.9,484.1 737.2,503 737.4,519.1 737.7,519.8 738,502.3 738.2,492.4 738.5,515.5 738.8,534.4 739.1,543.6 739.3,517.8 739.6,504.4 739.9,475.2 740.1,473.6 740.4,493.9 740.7,504 740.9,516.6 741.2,526 741.5,508.5 741.8,482 742,494 742.3,474.2 742.6,471.7 742.8,515.2 743.1,544.7 743.4,531.2 743.6,497.4 743.9,468.2 744.2,466.6 744.5,459.8 744.7,462.7 745,488.2 745.3,568.6 745.5,535.2 745.8,523 746.1,479.1 746.3,463.5 746.6,489.5 746.9,545.8 747.2,558.4 747.4,535.9 747.7,465.3 748,456.5 748.2,454.1 748.5,458.2 748.8,524.9 749,568.4 749.3,566.1 749.6,543.1 749.9,487.2 750.1,456.2 750.4,456.4 750.7,463.3 750.9,528.1 751.2,568.5 751.5,574.3 751.7,574.5 752,555.6 752.3,475.3 752.6,454.9 752.8,462.4 753.1,579.6 753.4,508.2 753.6,558.2 753.9,564.8 754.2,561.3 754.4,481.6 754.7,451.9 755,442.6 755.3,489.6 755.5,505.2 755.8,458.8 756.1,474 756.3,512 756.6,541.2 756.9,524.6 757.1,537.9 757.4,514 757.7,469.5 758,479.8 758.2,558.8 758.5,568.3 758.8,561.6 759,489.3 759.3,462.1 759.6,489.9 759.8,515.8 760.1,515.7 760.4,493.2 760.7,484.9 760.9,471.5 761.2,472.6 761.5,535.3 761.7,551.1 762,526.1 762.3,485.8 762.5,465.6 762.8,468.6 763.1,491.7 763.4,545.1 763.6,551.6 763.9,542.4 764.2,528.9 764.4,528.2 764.7,509.9 765,485 765.2,495.7 765.5,533.4 765.8,549.5 766.1,531.1 766.3,516.3 766.6,480.1 766.9,501.9 767.1,517.5 767.4,510 767.7,484.5 767.9,484.9 768.2,516.9 768.5,546.2 768.8,535.7 769,505.2 769.3,490.3 769.6,497.1 769.8,504.5 770.1,510.2 770.4,493.9 770.6,525.2 770.9,521.9 771.2,519 771.4,511.1 771.7,506.5 772,506.2 772.3,493.3 772.5,491.9 772.8,523 773.1,533.8 773.3,527.4 773.6,499.7 773.9,485.4 774.1,487.5 774.4,487 774.7,514 775,496.3 775.2,498.2 775.5,520.1 775.8,517.6 776,491.6 776.3,472.5 776.6,467.7 776.8,475.3 777.1,509.5 777.4,529.7 777.7,529.4 777.9,522.2 778.2,483.8 778.5,465.8 778.7,469.2 779,500.9 779.3,541.6 779.5,557.6 779.8,547.9 780.1,523.6 780.4,482.7 780.6,485.5 780.9,528.7 781.2,535.4 781.4,497.4 781.7,506.8 782,513.7 782.2,504.4 782.5,514.4 782.8,536.1 783.1,533.1 783.3,517.4 783.6,504.4 783.9,476.8 784.1,466.3 784.4,468.3 784.7,499 784.9,534.9 785.2,529.7 785.5,514.9 785.8,476.1 786,458.6 786.3,478.1 786.6,506.7 786.8,504.4 787.1,492.9 787.4,509.5 787.6,520.5 787.9,522.2 788.2,514.5 788.5,499.2 788.7,498.6 789,491.2 789.3,478.1 789.5,491.2 789.8,530.4 790.1,535.1 790.3,519.9 790.6,492.1 790.9,486 791.2,489.7 791.4,518.7 791.7,514.4 792,479.9 792.2,485.1 792.5,535.5 792.8,547.8 793,541.2 793.3,506.2 793.6,476.3 793.9,471.4 794.1,466 794.4,481.1 794.7,526.2 794.9,537.4 795.2,544.5 795.5,521.4 795.7,492.1 796,501.2 796.3,522.3 796.6,521.5 796.8,495.6 797.1,474.3 797.4,473 797.6,501.1 797.9,522.3 798.2,528.5 798.4,483.6 798.7,494.2 799,489.8 799.3,485.6 799.5,490.3 799.8,503.8 800.1,523.4 800.3,534.9 800.6,540.2 800.9,499.8 801.1,475.2 801.4,473.1 801.7,484.8 802,533.3 802.2,545.5 802.5,533.3 802.8,493.9 803,486.9 803.3,491 803.6,503.8 803.8,516.7 804.1,525.2 804.4,513.3 804.7,502.3 804.9,507.6 805.2,503.4 805.5,491.3 805.7,492.6 806,498.7 806.3,517.3 806.5,530.1 806.8,505.6 807.1,486.6 807.4,475.5 807.6,479.4 807.9,491.1 808.2,517.6 808.4,511.2 808.7,483.4 809,466.6 809.2,486.3 809.5,525.2 809.8,556.6 810.1,536.5 810.3,492.5 810.6,480.9 810.9,476.4 811.1,496.5 811.4,490.8 811.7,482.5 811.9,471.7 812.2,488.7 812.5,535.3 812.7,566.6 813,546.7 813.3,516.9 813.6,468.2 813.8,460.9 814.1,466.7 814.4,522.5 814.6,553.4 814.9,548.3 815.2,497.7 815.4,480.7 815.7,476.5 816,505.2 816.3,511.5 816.5,515.5 816.8,513.5 817.1,500.6 817.3,469.3 817.6,472.8 817.9,474.1 818.1,511.7 818.4,530.1 818.7,542.1 819,527 819.2,514 819.5,494.1 819.8,472.6 820,496.8 820.3,548.4 820.6,555.2 820.8,520.5 821.1,470.2 821.4,472.5 821.7,476.2 821.9,503.4 822.2,504.9 822.5,524.5 822.7,514.6 823,473.6 823.3,475.6 823.5,503 823.8,511.6 824.1,495.8 824.4,484.8 824.6,488.9 824.9,537.1 825.2,546.5 825.4,550.4 825.7,522.9 826,537.1 826.2,489.8 826.5,452 826.8,446.6 827.1,483.3 827.3,551.6 827.6,549 827.9,500.9 828.1,479.3 828.4,460.8 828.7,446.6 828.9,471.2 829.2,517.6 829.5,540.3 829.8,547.8 830,520.9 830.3,500.5 830.6,466.8 830.8,465 831.1,480.4 831.4,503.1 831.6,515.5 831.9,544 832.2,510.6 832.5,478.7 832.7,483.4 833,524.2 833.3,548.1 833.5,551 833.8,523.7 834.1,504.1 834.3,484.2 834.6,482.1 834.9,506.2 835.2,475.4 835.4,473.3 835.7,482.4 836,502.9 836.2,519.2 836.5,507.3 836.8,468.3 837,464.1 837.3,504.9 837.6,524.8 837.9,568.6 838.1,548 838.4,514.5 838.7,471.7 838.9,491.6 839.2,524.1 839.5,545.7 839.7,545.8 840,510.4 840.3,478.4 840.6,484.2 840.8,479.8 841.1,491.2 841.4,540.7 841.6,549.4 841.9,538.9 842.2,486.2 842.4,466 842.7,468.6 843,509.4 843.3,537.6 843.5,527.6 843.8,540.9 844.1,526.8 844.3,509.2 844.6,500 844.9,497.9 845.1,515.9 845.4,504.2 845.7,504.9 846,483.6 846.2,475.4 846.5,498.4 846.8,515.3 847,532.5 847.3,514 847.6,488.9 847.8,493.7 848.1,529 848.4,533.6 848.7,533.2 848.9,504.7 849.2,493.2 849.5,493.1 849.7,497.6 850,504.5 850.3,508.7 850.5,514.4 850.8,502.8 851.1,507.4 851.4,504.1 851.6,516.6 851.9,516 852.2,519.9 852.4,518.2 852.7,502.7 853,484.1 853.2,500.9 853.5,524.8 853.8,529.5 854,517.6 854.3,500.3 854.6,487.7 854.9,493.9 855.1,522.8 855.4,528.5 855.7,529.7 855.9,510 856.2,483.8 856.5,470.6 856.7,489.3 857,504.6 857.3,506.1 857.6,526.9 857.8,506.9 858.1,475.7 858.4,482.6 858.6,502 858.9,533 859.2,536.6 859.4,524 859.7,487.8 860,486.8 860.3,496.1 860.5,524.6 860.8,528.2 861.1,508.6 861.3,491.3 861.6,477.8 861.9,476 862.1,489.7 862.4,497.6 862.7,528 863,534.6 863.2,540.2 863.5,528.7 863.8,505.7 864,482.2 864.3,485 864.6,513.4 864.8,530.9 865.1,531.4 865.4,507.9 865.7,502.7 865.9,522.4 866.2,556.6 866.5,526.3 866.7,513.8 867,506.4 867.3,518.5 867.5,507.2 867.8,507.7 868.1,489.6 868.4,497.3 868.6,507 868.9,502.6 869.2,487.1 869.4,507.2 869.7,525.3 870,527.7 870.2,539.2 870.5,519.4 870.8,487.5 871.1,472.9 871.3,503.4 871.6,525.8 871.9,525.6 872.1,497.3 872.4,489.4 872.7,485.7 872.9,450.6 873.2,484.7 873.5,522.6 873.8,536.7 874,542.7 874.3,535 874.6,483.8 874.8,473.5 875.1,489.3 875.4,497 875.6,502.9 875.9,504 876.2,510.6 876.5,516.6 876.7,513.4 877,497 877.3,488.3 877.5,482.7 877.8,522.5 878.1,526.6 878.3,527.8 878.6,514 878.9,503.8 879.2,492.4 879.4,492.5 879.7,493.7 880,516.4 880.2,522.3 880.5,497.4 880.8,476.7 881,481 881.3,499.7 881.6,527.7 881.9,530.4 882.1,520.7 882.4,485 882.7,472.8 882.9,470.5 883.2,472.5 883.5,517 883.7,535.9 884,536.6 884.3,536.3 884.6,532.6 884.8,516.1 885.1,475.2 885.4,470.4 885.6,487.9 885.9,523.2 886.2,538.7 886.4,536 886.7,511.8 887,512.8 887.3,519.7 887.5,471.1 887.8,465.6 888.1,474.4 888.3,505.3 888.6,541.3 888.9,539.6 889.1,509 889.4,501.2 889.7,510.3 890,524.5 890.2,526.6 890.5,524.6 890.8,504.7 891,477.4 891.3,472.8 891.6,473.8 891.8,478.5 892.1,513.4 892.4,531.6 892.6,534.5 892.9,506.7 893.2,491.2 893.5,494.4 893.7,476.6 894,483.6 894.3,534.5 894.5,544.2 894.8,530.1 895.1,506.6 895.3,485.9 895.6,471.5 895.9,488.7 896.2,518.6 896.4,542.5 896.7,534.4 897,508 897.2,507 897.5,506.8 897.8,474 898,501.1 898.3,546.5 898.6,546.6 898.9,543.7 899.1,478.7 899.4,477.5 899.7,516.9 899.9,545.5 900.2,524.9 900.5,480 900.7,446.6 901,467.5 901.3,475.5 901.6,539 901.8,552.9 902.1,512.5 902.4,491.8 902.6,480.6 902.9,469.7 903.2,464.5 903.4,485.2 903.7,485.2 904,487.1 904.3,480.9 904.5,514.9 904.8,544.9 905.1,563.6 905.3,500.1 905.6,503.6 905.9,542.8 906.1,533.3 906.4,504.5 906.7,538.9 907,549.9 907.2,536.3 907.5,480.4 907.8,493.2 908,523.3 908.3,513.1 908.6,484.9 908.8,496.7 909.1,518.8 909.4,553 909.7,522.6 909.9,495.9 910.2,460.6 910.5,453.6 910.7,495.9 911,543.3 911.3,539.6 911.5,507.5 911.8,456 912.1,443.2 912.4,455.7 912.6,492.8 912.9,549.3 913.2,565.3 913.4,424.6 913.7,604.6 914,477.3 914.2,497.8 914.5,535 914.8,551.6 915.1,509.3 915.3,491.8 915.6,502.7 915.9,500.7 916.1,499.2 916.4,501 916.7,533.3 916.9,542.4 917.2,529.5 917.5,522.4 917.8,515.3 918,513.3 918.3,485.8 918.6,452.9 918.8,458.5 919.1,466.5 919.4,499.3 919.6,554.5 919.9,559.6 920.2,506.7 920.5,452.4 920.7,459.4 921,460.9 921.3,507.1 921.5,551.5 921.8,559.8 922.1,511.7 922.3,465.8 922.6,453.5 922.9,505.7 923.2,551.4 923.4,555 923.7,515.1 924,488.4 924.2,464.7 924.5,480.2 924.8,534.6 925,541.6 925.3,544.4 925.6,481.7 925.9,470.7 926.1,467.7 926.4,491.5 926.7,525.6 926.9,550.3 927.2,548.2 927.5,521.5 927.7,483.1 928,481.4 928.3,482 928.6,482 928.8,506.2 929.1,521.7 929.4,538.2 929.6,525.6 929.9,514.5 930.2,504 930.4,492.1 930.7,497.2 931,492.5 931.3,507.5 931.5,524.8 931.8,519.2 932.1,509.9 932.3,497.2 932.6,497.1 932.9,511.5 933.1,512.8 933.4,506.7 933.7,491.7 933.9,479.4 934.2,486.9 934.5,516.9 934.8,532.5 935,533 935.3,533.6 935.6,499.6 935.8,474.7 936.1,453.6 936.4,478.5 936.6,507.3 936.9,525.2 937.2,526.1 937.5,502.6 937.7,487 938,487.2 938.3,498.5 938.5,531.7 938.8,536.5 939.1,531.5 939.3,492.7 939.6,471 939.9,470.6 940.2,486 940.4,516.8 940.7,519.6 941,511.7 941.2,517.5 941.5,506.7 941.8,489.6 942,485.1 942.3,492.2 942.6,497.2 942.9,492.8 943.1,493 943.4,485.1 943.7,489.7 943.9,485.6 944.2,508.9 944.5,514.1 944.7,511.9 945,503.8 945.3,511 945.6,505.5 945.8,498.1 946.1,510.2 946.4,521.6 946.6,520.6 946.9,509.1 947.2,507 947.4,514.6 947.7,509.2 948,506.5 948.3,488.5 948.5,488.7 948.8,496.9 949.1,494.9 949.3,499.9 949.6,501.8 949.9,501.8 950.1,505.3 950.4,492.2 950.7,501.9 951,517 951.2,541.6 951.5,532 951.8,500.4 952,483.6 952.3,478.6 952.6,497.8 952.8,509.6 953.1,515.8 953.4,522.4 953.7,496.9 953.9,482.6 954.2,481.6 954.5,496.5 954.7,503.4 955,512.3 955.3,528.5 955.5,523.5 955.8,499.4 956.1,481.7 956.4,487.4 956.6,465.6 956.9,499.8 957.2,519.9 957.4,521 957.7,531.3 958,537.9 958.2,510.4 958.5,476.8 958.8,471 959.1,513 959.3,543.8 959.6,540.5 959.9,501.6 960.1,462.9 960.4,456.1 960.7,467.3 960.9,475.1 961.2,543.7 961.5,551.2 961.8,538.2 962,493.9 962.3,469.4 962.6,487.2 962.8,538.1 963.1,542.7 963.4,525.8 963.6,485.2 963.9,475.8 964.2,454.4 964.5,470.4 964.7,470.8 965,508.7 965.3,525.5 965.5,499.5 965.8,512.3 966.1,536.1 966.3,527.4 966.6,423.6 966.9,449.7 967.2,452.1 967.4,584.6 967.7,531.4 968,558.4 968.2,525.4 968.5,494.1 968.8,483.2 969,517.9 969.3,537 969.6,550.4 969.9,528.1 970.1,480.4 970.4,463.8 970.7,477.5 970.9,509.6 971.2,529.8 971.5,540.6 971.7,532.8 972,484 972.3,478.1 972.6,499.8 972.8,538.8 973.1,534.3 973.4,512.3 973.6,508.8 973.9,524.9 974.2,505.7 974.4,485.2 974.7,472.8 975,485.2 975.2,495.2 975.5,494.3 975.8,488.5 976.1,524 976.3,557.4 976.6,561.6 976.9,541 977.1,509.4 977.4,499.2 977.7,497.2 977.9,520 978.2,545.5 978.5,529.1 978.8,487.9 979,468.3 979.3,463.9 979.6,467 979.8,497.3 980.1,538.4 980.4,557.6 980.6,554.8 980.9,530.7 981.2,473.2 981.5,457.4 981.7,457.3 982,467 982.3,489.3 982.5,513.9 982.8,525.9 983.1,530.9 983.3,518.9 983.6,519.7 983.9,505.8 984.2,499.1 984.4,537 984.7,559.4 985,559.2 985.2,542.4 985.5,486.8 985.8,448.6 986,464.8 986.3,530.8 986.6,552.2 986.9,532.2 987.1,468 987.4,465.5 987.7,494.6 987.9,537 988.2,522.2 988.5,485.1 988.7,479.7 989,476.9 989.3,503.1 989.6,530.1 989.8,535 990.1,531.6 990.4,515.8 990.6,491.9 990.9,483 991.2,470.6 991.4,442.6 991.7,496.5 992,550.6 992.3,561.6 992.5,555.7 992.8,519.2 993.1,491.8 993.3,487.1 993.6,497.6 993.9,522.9 994.1,529.5 994.4,524.2 994.7,519.6 995,520.5 995.2,516.1 995.5,501.8 995.8,510.1 996,541.5 996.3,548.5 996.6,527.7 996.8,512.2 997.1,489.5 997.4,491.4 997.7,500.3 997.9,525 998.2,522.3 998.5,510 998.7,495.1 999,518.9 999.3,517.8 999.5,531 999.8,531.6 1000.1,505 1000.4,491.6 1000.6,488 1000.9,492.5 1001.2,507.6 1001.4,526.9 1001.7,518.1 1002,491.8 1002.2,491.9 1002.5,510.1 1002.8,522.9 1003.1,529.5 1003.3,520.7 1003.6,495.3 1003.9,480.1 1004.1,476.3 1004.4,486.8 1004.7,521.4 1004.9,542.6 1005.2,533.7 1005.5,492.2 1005.8,476.8 1006,492.6 1006.3,502.6 1006.6,517.6 1006.8,513.2 1007.1,493 1007.4,498.7 1007.6,514.6 1007.9,529.8 1008.2,518.4 1008.5,494.5 1008.7,491.1 1009,492.8 1009.3,526.5 1009.5,537.3 1009.8,518.4 1010.1,497.5 1010.3,510.9 1010.6,521.1 1010.9,536.7 1011.2,505.2 1011.4,492.1 1011.7,489.9 1012,504.6 1012.2,507.9 1012.5,508.1 1012.8,497.9 1013,513.4 1013.3,498.7 1013.6,505.9 1013.8,494.2 1014.1,490.7 1014.4,479.1 1014.7,487.4 1014.9,540.5 1015.2,571.6 1015.5,556 1015.7,489.3 1016,438.6 1016.3,468.9 1016.5,477.5 1016.8,517.5 1017.1,536.5 1017.4,528.8 1017.6,518.3 1017.9,503.4 1018.2,473.7 1018.4,462.9 1018.7,483.9 1019,466.7 1019.2,474.2 1019.5,508.2 1019.8,548.1 1020.1,559 1020.3,532.5 1020.6,543.8 1020.9,533.6 1021.1,538.8 1021.4,526.8 1021.7,505.6 1021.9,521.1 1022.2,544.4 1022.5,510.9 1022.8,495.4 1023,492.3 1023.3,509.5 1023.6,501.3 1023.8,480.1 1024.1,467.3 1024.4,473.3 1024.6,490.7 1024.9,543.5 1025.2,534.5 1025.5,522.8 1025.7,522 1026,523.9 1026.3,531.7 1026.5,512.7 1026.8,482.7 1027.1,461.3 1027.3,472.5 1027.6,520.6 1027.9,552.6 1028.2,566.6 1028.4,553.9 1028.7,476.4 1029,444.6 1029.2,480.6 1029.5,508.5 1029.8,527 1030,510.4 1030.3,517 1030.6,538.9 1030.9,506.5 1031.1,499 1031.4,501.5 1031.7,505.6 1031.9,544.7 1032.2,550.2 1032.5,543 1032.7,502.5 1033,483.2 1033.3,529.2 1033.6,535.8 1033.8,554.8 1034.1,552.7 1034.4,536.6 1034.6,509.3 1034.9,489.5 1035.2,474.5 1035.4,498.8 1035.7,535 1036,532.6 1036.3,504.6 1036.5,475.6 1036.8,472.9 1037.1,495.9 1037.3,533 1037.6,545 1037.9,520.6 1038.1,472.7 1038.4,463.6 1038.7,471 1039,527.4 1039.2,548.5 1039.5,544.8 1039.8,533.5 1040,473.7 1040.3,460.3 1040.6,464.8 1040.8,515.2 1041.1,546.2 1041.4,550.6 1041.7,542.7 1041.9,489.5 1042.2,463.5 1042.5,462.6 1042.7,469.3 1043,529.1 1043.3,549.6 1043.5,550.6 1043.8,510.8 1044.1,469.7 1044.4,463.7 1044.6,477.4 1044.9,541 1045.2,549.2 1045.4,538 1045.7,477.5 1046,477.3 1046.2,477.9 1046.5,495.1 1046.8,516.3 1047.1,534.7 1047.3,506.1 1047.6,481.6 1047.9,471.7 1048.1,492 1048.4,520.3 1048.7,530.3 1048.9,527.5 1049.2,525.5 1049.5,523.7 1049.8,529.1 1050,528.6 1050.3,516.9 1050.6,493.7 1050.8,506.2 1051.1,534.2 1051.4,540.7 1051.6,543.4 1051.9,531 1052.2,504.5 1052.5,491 1052.7,484.8 1053,485.9 1053.3,487.5 1053.5,498.4 1053.8,505.9 1054.1,525.8 1054.3,537.6 1054.6,523.9 1054.9,490.5 1055.1,464.1 1055.4,469.5 1055.7,514.3 1056,541.5 1056.2,543 1056.5,537.3 1056.8,487.9 1057,449.6 1057.3,461 1057.6,495.5 1057.8,539 1058.1,544.3 1058.4,542.6 1058.7,508.7 1058.9,473.4 1059.2,462.4 1059.5,480.3 1059.7,524.3 1060,540.1 1060.3,549.6 1060.5,501.7 1060.8,490.4 1061.1,511.3 1061.4,529.2 1061.6,542.5 1061.9,532.1 1062.2,507.9 1062.4,488.1 1062.7,482 1063,493.2 1063.2,510.1 1063.5,525.4 1063.8,517.7 1064.1,490.2 1064.3,487 1064.6,505.5 1064.9,526.6 1065.1,524.5 1065.4,516.6 1065.7,512.1 1065.9,529 1066.2,493.6 1066.5,500.1 1066.8,479.3 1067,471.6 1067.3,473.6 1067.6,491.4 1067.8,507.9 1068.1,515.7 1068.4,505.2 1068.6,483.5 1068.9,468.3 1069.2,487.7 1069.5,515 1069.7,503.1 1070,479.3 1070.3,493.1 1070.5,509.7 1070.8,517.8 1071.1,513.9 1071.3,540.1 1071.6,526.6 1071.9,527.8 1072.2,485.7 1072.4,467.8 1072.7,478.7 1073,499.7 1073.2,522.7 1073.5,537.3 1073.8,531.5 1074,502.7 1074.3,500.4 1074.6,491.3 1074.9,480.4 1075.1,477.9 1075.4,478.3 1075.7,480.9 1075.9,490.6 1076.2,490.4 1076.5,500.5 1076.7,506.7 1077,493.3 1077.3,468.9 1077.6,477.5 1077.8,531.1 1078.1,524.4 1078.4,490.4 1078.6,464.1 1078.9,449.6 1079.2,482 1079.4,536 1079.7,563.6 1080,536.5 1080.3,479.4 1080.5,464.7 1080.8,486.5 1081.1,535.4 1081.3,556.6 1081.6,548.1 1081.9,552.2 1082.1,526.2 1082.4,472.7 1082.7,468.8 1083,487.1 1083.2,513.8 1083.5,545.7 1083.8,537.6 1084,523.2 1084.3,506.7 1084.6,494.5 1084.8,493.2 1085.1,501.1 1085.4,523.6 1085.7,520.3 1085.9,523.4 1086.2,501.3 1086.5,496.7 1086.7,517.6 1087,524.1 1087.3,536.6 1087.5,529.4 1087.8,516.6 1088.1,488.5 1088.4,431.6 1088.6,478.5 1088.9,506.3 1089.2,550.5 1089.4,555.3 1089.7,537.9 1090,499.4 1090.2,486.7 1090.5,496 1090.8,499.8 1091.1,527.6 1091.3,534.5 1091.6,498.1 1091.9,492.6 1092.1,510 1092.4,525.7 1092.7,528.5 1092.9,514.7 1093.2,479.1 1093.5,477 1093.8,488 1094,515.7 1094.3,544.4 1094.6,534.6 1094.8,521 1095.1,484.9 1095.4,478.9 1095.6,496 1095.9,535.1 1096.2,551.8 1096.4,548.9 1096.7,530.2 1097,526.6 1097.3,512.8 1097.5,475.6 1097.8,494 1098.1,495 1098.3,502.2 1098.6,500.5 1098.9,516.4 1099.1,492.7 1099.4,500 1099.7,507.7 1100,492.6 1100.2,508 1100.5,549.8 1100.8,552.3 1101,536.6 1101.3,519 1101.6,590.6 1101.8,524.6 1102.1,502.1 1102.4,476.3 1102.7,493.2 1102.9,517.5 1103.2,536.7 1103.5,515.4 1103.7,504.1 1104,478.1 1104.3,477.1 1104.5,507 1104.8,531.7 1105.1,537.3 1105.4,493.6 1105.6,471.9 1105.9,482.2 1106.2,504.5 1106.4,506.1 1106.7,518.1 1107,540.2 1107.2,519 1107.5,486.2 1107.8,482.5 1108.1,495.8 1108.3,499.3 1108.6,540.2 1108.9,534 1109.1,511.6 1109.4,484.8 1109.7,481.9 1109.9,463.6 1110.2,481.5 1110.5,502.3 1110.8,542.9 1111,551.6 1111.3,518.8 1111.6,497.8 1111.8,517.5 1112.1,519.8 1112.4,500.5 1112.6,480.3 1112.9,487.9 1113.2,502 1113.5,534.7 1113.7,519.5 1114,504.1 1114.3,486.3 1114.5,487 1114.8,505.2 1115.1,501.9 1115.3,513 1115.6,501.7 1115.9,502 1116.2,516.1 1116.4,529.6 1116.7,511.6 1117,497 1117.2,497 1117.5,521.9 1117.8,518.2 1118,495.2 1118.3,485.6 1118.6,486.7 1118.9,535.3 1119.1,566.6 1119.4,540 1119.7,504 1119.9,487.8 1120.2,487.3 1120.5,506.4 1120.7,534.3 1121,546.6 1121.3,532.9 1121.6,511.6 1121.8,499.5 1122.1,486.8 1122.4,490.5 1122.6,505.4 1122.9,536.2 1123.2,544.6 1123.4,520.2 1123.7,486.8 1124,479.9 1124.3,493.5 1124.5,514.8 1124.8,522.4 1125.1,522.4 1125.3,538.1 1125.6,508.2 1125.9,480 1126.1,454.6 1126.4,483.6 1126.7,515.4 1127,525.3 1127.2,516.6 1127.5,496.2 1127.8,493.2 1128,497.6 1128.3,502.5 1128.6,499.6 1128.8,495.8 1129.1,495.4 1129.4,510.1 1129.7,500.8 1129.9,496.8 1130.2,503.3 1130.5,512.3 1130.7,528.8 1131,533.9 1131.3,533.4 1131.5,515.5 1131.8,494.6 1132.1,488.8 1132.4,505.5 1132.6,522.9 1132.9,533.6 1133.2,511.1 1133.4,506.8 1133.7,518.7 1134,506.3 1134.2,494 1134.5,509.4 1134.8,505.8 1135.1,489.3 1135.3,481.7 1135.6,508.1 1135.9,526.1 1136.1,532.9 1136.4,524.1 1136.7,518.5 1136.9,491.8 1137.2,489.5 1137.5,497.6 1137.7,501.8 1138,503.9 1138.3,504.5 1138.6,508.4 1138.8,508.8 1139.1,508.2 1139.4,526.1 1139.6,518.5 1139.9,508.5 1140.2,504 1140.4,507.4 1140.7,522.8 1141,532 1141.3,539.2 1141.5,521.4 1141.8,483.3 1142.1,472.6 1142.3,493.7 1142.6,508.6 1142.9,525.2 1143.1,538 1143.4,549.6 1143.7,529.4 1144,478.2 1144.2,468.9 1144.5,488.5 1144.8,524.6 1145,543.6 1145.3,542.1 1145.6,514.7 1145.8,491.3 1146.1,473 1146.4,492.8 1146.7,508.5 1146.9,514.5 1147.2,517.2 1147.5,518.8 1147.7,517.5 1148,479.1 1148.3,481.8 1148.5,480.6 1148.8,477.5 1149.1,500.9 1149.4,491.4 1149.6,536.7 1149.9,543.8 1150.2,524.2 1150.4,493.7 1150.7,453.6 1151,473.4 1151.2,511.9 1151.5,511.2 1151.8,510.6 1152.1,528.9 1152.3,514.2 1152.6,503.4 1152.9,506 1153.1,497.8 1153.4,513 1153.7,538.6 1153.9,541.3 1154.2,527.1 1154.5,495.1 1154.8,507.9 1155,475.8 1155.3,462.3 1155.6,472.1 1155.8,501.7 1156.1,560.7 1156.4,556.8 1156.6,541 1156.9,485.4 1157.2,483.5 1157.5,475.5 1157.7,503.1 1158,528.9 1158.3,498.4 1158.5,461.6 1158.8,491.7 1159.1,542.4 1159.3,549.5 1159.6,535.3 1159.9,480.6 1160.2,475.3 1160.4,538.7 1160.7,576.6 1161,559.8 1161.2,505.9 1161.5,451.4 1161.8,437.6 1162,453.2 1162.3,518.3 1162.6,545.2 1162.9,545.3 1163.1,530.7 1163.4,515 1163.7,474.9 1163.9,450 1164.2,445.7 1164.5,507.3 1164.7,543.8 1165,563 1165.3,555.1 1165.6,499.7 1165.8,489.3 1166.1,524.2 1166.4,552.8 1166.6,506.2 1166.9,454.6 1167.2,465.4 1167.4,501.2 1167.7,532.2 1168,532.5 1168.3,530.5 1168.5,481.7 1168.8,473.4 1169.1,470.7 1169.3,531.7 1169.6,551.8 1169.9,535.2 1170.1,473 1170.4,507.9 1170.7,523.3 1171,501.7 1171.2,497.1 1171.5,470.8 1171.8,448.4 1172,437.6 1172.3,465 1172.6,486.7 1172.8,508.9 1173.1,493.6 1173.4,477.7 1173.7,501.9 1173.9,545.2 1174.2,526 1174.5,483.5 1174.7,484.6 1175,500.3 1175.3,480.2 1175.5,524.3 1175.8,557.8 1176.1,539.8 1176.3,481.1 1176.6,479.7 1176.9,521.3 1177.2,537.6 1177.4,497.9 1177.7,475.5 1178,531.9 1178.2,534.2 1178.5,518.6 1178.8,509.5 1179,527.1 1179.3,496.9 1179.6,477.5 1179.9,471.1 1180.1,587.6 1180.4,496.9 1180.7,494.7 1180.9,466.9 1181.2,489.3 1181.5,524.7 1181.7,543.2 1182,496.2 1182.3,474.1 1182.6,512.3 1182.8,539.1 1183.1,545.5 1183.4,543.3 1183.6,527.1 1183.9,525.4 1184.2,549.1 1184.4,501.9 1184.7,442.6 1185,485.6 1185.3,505.7 1185.5,484.9 1185.8,523.4 1186.1,545.1 1186.3,533.3 1186.6,521.4 1186.9,491.6 1187.1,506.7 1187.4,530.4 1187.7,535.2 1188,512.1 1188.2,485.7 1188.5,499.5 1188.8,520.7 1189,569.6 1189.3,521.8 1189.6,484 1189.8,478.3 1190.1,485.5 1190.4,495.6 1190.7,501.8 1190.9,526.4 1191.2,552.7 1191.5,549.6 1191.7,534.9 1192,510.6 1192.3,490.1 1192.5,484.5 1192.8,470.4 1193.1,485.1 1193.4,544.2 1193.6,549 1193.9,510.1 1194.2,509.7 1194.4,495.6 1194.7,487.4 1195,508.6 1195.2,521.4 1195.5,512.4 1195.8,492.4 1196.1,471.8 1196.3,478 1196.6,501.2 1196.9,482.9 1197.1,501.6 1197.4,526.8 1197.7,537.6 1197.9,509 1198.2,474.1 1198.5,484.9 1198.8,492.5 1199,527.5 1199.3,491.6 1199.6,487.8 1199.8,479.7 1200.1,495.3 1200.4,502.5 1200.6,523.6 1200.9,525.5 1201.2,515.9 1201.5,497.9 1201.7,480.5 1202,490.6 1202.3,517.3 1202.5,546.7 1202.8,545.1 1203.1,532.4 1203.3,485.6 1203.6,466 1203.9,483.6 1204.2,507.5 1204.4,504.8 1204.7,510 1205,529.4 1205.2,487.6 1205.5,468.9 1205.8,468.4 1206,455.6 1206.3,490.2 1206.6,530 1206.9,561.6 1207.1,547 1207.4,501.1 1207.7,479.2 1207.9,495.7 1208.2,520.6 1208.5,531.2 1208.7,499.2 1209,483.2 1209.3,490.1 1209.6,510.5 1209.8,545.2 1210.1,549 1210.4,546.4 1210.6,516.7 1210.9,521 1211.2,532.9 1211.4,522.4 1211.7,536.7 1212,548.7 1212.3,520.3 1212.5,505.8 1212.8,496.1 1213.1,490.8 1213.3,514.2 1213.6,546.7 1213.9,526.1 1214.1,501.8 1214.4,478.7 1214.7,491.1 1215,507.1 1215.2,536.6 1215.5,548.6 1215.8,548 1216,533.1 1216.3,505.5 1216.6,489.4 1216.8,483 1217.1,501.4 1217.4,503 1217.6,517.7 1217.9,509.1 1218.2,480.8 1218.5,455.6 1218.7,494.4 1219,509.2 1219.3,540.1 1219.5,525.5 1219.8,496.3 1220.1,478.3 1220.3,496.7 1220.6,503.9 1220.9,497.5 1221.2,511.5 1221.4,525.4 1221.7,510.5 1222,485 1222.2,474.5 1222.5,489.2 1222.8,511.1 1223,516.3 1223.3,501.5 1223.6,484.2 1223.9,487.7 1224.1,508.5 1224.4,518.5 1224.7,515.6 1224.9,511.5 1225.2,501.3 1225.5,507.4 1225.7,506.4 1226,514.1 1226.3,494.3 1226.6,479.5 1226.8,481.4 1227.1,517.6 1227.4,551.6 1227.6,544.4 1227.9,512.9 1228.2,482.1 1228.4,492.3 1228.7,538.1 1229,548.4 1229.3,537.3 1229.5,528.6 1229.8,521.6 1230.1,491.6 1230.3,489.9 1230.6,489.5 1230.9,474.5 1231.1,477.6 1231.4,496.9 1231.7,533.7 1232,520.3 1232.2,529.9 1232.5,542.8 1232.8,532 1233,535.5 1233.3,500.6 1233.6,491.4 1233.8,487.9 1234.1,501.2 1234.4,524.7 1234.7,527.9 1234.9,552.9 1235.2,558.5 1235.5,544.1 1235.7,464.9 1236,441.7 1236.3,446.6 1236.5,512.7 1236.8,553.9 1237.1,532.2 1237.4,481.2 1237.6,438.8 1237.9,454.3 1238.2,541.1 1238.4,571.6 1238.7,572.5 1239,538 1239.2,468.4 1239.5,452 1239.8,469 1240.1,502 1240.3,518.1 1240.6,536.4 1240.9,541.8 1241.1,500.3 1241.4,483.4 1241.7,500.9 1241.9,513.7 1242.2,525 1242.5,519.7 1242.8,508.8 1243,420.6 1243.3,472.2 1243.6,587.6 1243.8,542 1244.1,527 1244.4,508.6 1244.6,525.3 1244.9,550.4 1245.2,543 1245.5,525.1 1245.7,527.5 1246,529.3 1246.3,534.6 1246.5,504.3 1246.8,482.2 1247.1,482.6 1247.3,519.3 1247.6,540.1 1247.9,525.5 1248.2,501 1248.4,473.3 1248.7,476.8 1249,488.4 1249.2,503.1 1249.5,528.1 1249.8,509.8 1250,492.2 1250.3,476.1 1250.6,499.7 1250.9,539.9 1251.1,548.9 1251.4,542.3 1251.7,501.5 1251.9,473.6 1252.2,462.8 1252.5,471 1252.7,522.1 1253,539.5 1253.3,540.9 1253.6,533.7 1253.8,508.6 1254.1,490.7 1254.4,474.7 1254.6,460.6 1254.9,465 1255.2,478.5 1255.4,521.3 1255.7,537.8 1256,540.8 1256.3,527.9 1256.5,482.7 1256.8,468.6 1257.1,471.8 1257.3,511.9 1257.6,516.5 1257.9,514.1 1258.1,521.3 1258.4,516.4 1258.7,493.7 1258.9,476.6 1259.2,467.9 1259.5,492.6 1259.8,538.8 1260,523.6 1260.3,469.1 1260.6,467 1260.8,488 1261.1,544.9 1261.4,567.6 1261.6,553.8 1261.9,522.4 1262.2,494.9 1262.5,470.8 1262.7,473.9 1263,506.6 1263.3,514 1263.5,520.3 1263.8,536.1 1264.1,530.2 1264.3,470.8 1264.6,462.5 1264.9,467.1 1265.2,504.2 1265.4,538.1 1265.7,535.6 1266,548.9 1266.2,549.6 1266.5,534.8 1266.8,506.4 1267,464.2 1267.3,454.6 1267.6,459 1267.9,486 1268.1,531.7 1268.4,522.7 1268.7,521.1 1268.9,519.3 1269.2,508.8 1269.5,490.5 1269.7,524.9 1270,528.9 1270.3,540.1 1270.6,518.8 1270.8,474.9 1271.1,505.9 1271.4,517.9 1271.6,518.6 1271.9,519.7 1272.2,492.8 1272.4,461.8 1272.7,460.7 1273,500.8 1273.3,550.6 1273.5,556.6 1273.8,552 1274.1,493.5 1274.3,459.1 1274.6,460.3 1274.9,473 1275.1,518.3 1275.4,540.9 1275.7,544.6 1276,535.7 1276.2,505.5 1276.5,503 1276.8,475.1 1277,475.1 1277.3,500.6 1277.6,512.9 1277.8,531.6 1278.1,513 1278.4,492.1 1278.7,465.2 1278.9,472.4 1279.2,514.4 1279.5,545.5 1279.7,551.4 1280,536.7 1280.3,509.5 1280.5,480.9 1280.8,486.9 1281.1,486.6 1281.4,541.7 1281.6,556.6 1281.9,529.4 1282.2,495.9 1282.4,489.6 1282.7,471.8 1283,483.4 1283.2,503.4 1283.5,526.1 1283.8,533.9 1284.1,522.9 1284.3,490.3 1284.6,499.1 1284.9,517.9 1285.1,541 1285.4,533.9 1285.7,523.3 1285.9,516.1 1286.2,492.3 1286.5,488.1 1286.8,489.9 1287,506.3 1287.3,509.9 1287.6,510.6 1287.8,527.2 1288.1,522.4 1288.4,513.3 1288.6,506.2 1288.9,497.2 1289.2,506.4 1289.5,529.6 1289.7,512.8 1290,477.1 1290.3,477.4 1290.5,480.8 1290.8,497.2 1291.1,529.2 1291.3,543 1291.6,537.7 1291.9,518.2 1292.2,500.2 1292.4,493.1 1292.7,512.9 1293,513.1 1293.2,525.6 1293.5,534.4 1293.8,516.8 1294,483.7 1294.3,462.6 1294.6,475 1294.9,511.8 1295.1,527.7 1295.4,526.3 1295.7,514.1 1295.9,513.9 1296.2,502.2 1296.5,529.9 1296.7,530.6"/>
<polyline fill="none" stroke="rgb(212,212,0)" stroke-width="2.5" stroke-linejoin="round" points="325.2,506.8 326.1,507.1 326.9,507.4 327.7,507.5 328.5,507.6 329.3,507.7 330.1,507.1 330.9,506.7 331.7,506.4 332.5,506.4 333.3,505.8 334.2,506.5 335,507.7 335.8,507.7 336.6,506.8 337.4,505.6 338.2,506 339,507.1 339.8,508 340.6,508.1 341.4,507.6 342.3,506.8 343.1,506.3 343.9,507 344.7,507 345.5,506.7 346.3,507.6 347.1,507.3 347.9,506 348.7,505.4 349.5,506.2 350.4,506.7 351.2,506.3 352,506.9 352.8,506.8 353.6,506.1 354.4,505.5 355.2,505.9 356,506 356.8,506.8 357.6,507.8 358.5,507.6 359.3,507.4 360.1,507 360.9,506.9 361.7,506.8 362.5,507.2 363.3,507.4 364.1,507.7 364.9,506.5 365.7,505.5 366.5,505.9 367.4,507.1 368.2,507.6 369,507 369.8,506.5 370.6,506.4 371.4,506.4 372.2,506.3 373,507.3 373.8,506.9 374.6,506.5 375.5,507 376.3,507.1 377.1,506.7 377.9,506.8 378.7,507.1 379.5,506.8 380.3,507.1 381.1,507.7 381.9,507.7 382.7,507.1 383.6,506.6 384.4,506.1 385.2,506 386,506.6 386.8,506.6 387.6,506.8 388.4,507.4 389.2,507.4 390,506.8 390.8,506.4 391.7,506.3 392.5,506.6 393.3,506.6 394.1,507.2 394.9,506.6 395.7,506.2 396.5,506 397.3,506.9 398.1,507.8 398.9,508.6 399.8,508.3 400.6,507.6 401.4,506.6 402.2,506 403,505.8 403.8,506 404.6,507.2 405.4,507.4 406.2,507.2 407,507.3 407.8,506.1 408.7,505.7 409.5,506.1 410.3,506.4 411.1,506.4 411.9,506.6 412.7,507.3 413.5,507.8 414.3,507.5 415.1,506.6 415.9,506.7 416.8,506.8 417.6,507.5 418.4,507.6 419.2,508.1 420,508.7 420.8,507.6 421.6,506.8 422.4,506.8 423.2,507.3 424,507.9 424.9,508.4 425.7,508.6 426.5,506.8 427.3,506.1 428.1,506.3 428.9,506.4 429.7,506.7 430.5,507.1 431.3,507.4 432.1,506.8 433,506.8 433.8,506.4 434.6,506.7 435.4,507.1 436.2,506.7 437,506.6 437.8,507.1 438.6,508.4 439.4,507.9 440.2,507.3 441.1,505.9 441.9,505.3 442.7,505.6 443.5,506.2 444.3,507 445.1,506.9 445.9,507.4 446.7,507.6 447.5,507.5 448.3,505.9 449.1,505.4 450,505.4 450.8,506.3 451.6,508.1 452.4,507.8 453.2,507.3 454,506.9 454.8,506.6 455.6,506.9 456.4,507.2 457.2,507 458.1,506.3 458.9,506.3 459.7,506.5 460.5,506.6 461.3,506.1 462.1,505.8 462.9,505.6 463.7,506.4 464.5,507.4 465.3,507 466.2,506.2 467,507.1 467.8,507.7 468.6,507.5 469.4,507.1 470.2,506.5 471,506.7 471.8,507.2 472.6,507.7 473.4,506.7 474.3,506.5 475.1,506.7 475.9,506.5 476.7,506.9 477.5,508 478.3,508.2 479.1,508.1 479.9,507.2 480.7,506.5 481.5,505.7 482.4,505.6 483.2,506.5 484,507.3 484.8,507.6 485.6,507.5 486.4,507 487.2,507 488,507.3 488.8,507.1 489.6,506.6 490.4,506.4 491.3,506.8 492.1,507.1 492.9,507.5 493.7,506.8 494.5,506 495.3,506.3 496.1,507.3 496.9,507.8 497.7,506.9 498.5,507 499.4,507.6 500.2,507.6 501,508.2 501.8,507.4 502.6,506.8 503.4,507.3 504.2,507.2 505,506.7 505.8,507.2 506.6,508 507.5,508.1 508.3,507.3 509.1,507.1 509.9,507.6 510.7,507.8 511.5,507.6 512.3,507.7 513.1,507.4 513.9,506.5 514.7,506.8 515.6,506.5 516.4,506.4 517.2,506.2 518,507 518.8,506.8 519.6,506.7 520.4,506.8 521.2,507.3 522,507.1 522.8,506.3 523.7,505.8 524.5,506.3 525.3,507 526.1,507.6 526.9,507.4 527.7,507.3 528.5,506.9 529.3,506.8 530.1,508.3 530.9,507.9 531.7,506.4 532.6,505.9 533.4,506 534.2,506.3 535,506.9 535.8,507.1 536.6,506.7 537.4,507.1 538.2,507 539,507 539.8,507.3 540.7,507.4 541.5,507.6 542.3,506.8 543.1,506.3 543.9,506.7 544.7,507.3 545.5,507.5 546.3,507.5 547.1,506.9 547.9,506.3 548.8,506.5 549.6,507.2 550.4,507.2 551.2,506.9 552,506.2 552.8,506.1 553.6,505.7 554.4,506.9 555.2,507.8 556,508.3 556.9,507.7 557.7,507.4 558.5,506.9 559.3,506.9 560.1,506.8 560.9,507.4 561.7,507.3 562.5,506.8 563.3,507 564.1,506.9 565,506.4 565.8,506.2 566.6,506.6 567.4,506.7 568.2,506.9 569,507.4 569.8,507.5 570.6,507 571.4,507 572.2,506.9 573,507.1 573.9,507.1 574.7,506.4 575.5,505.6 576.3,505.8 577.1,506.5 577.9,507.7 578.7,508.6 579.5,508.2 580.3,507.3 581.1,506.5 582,506.3 582.8,507.5 583.6,507.7 584.4,508.1 585.2,507.8 586,507.7 586.8,507.2 587.6,507.3 588.4,507.9 589.2,508.2 590.1,507.2 590.9,506.8 591.7,506.4 592.5,506.3 593.3,505.9 594.1,506.5 594.9,507.2 595.7,506.9 596.5,506.9 597.3,507.2 598.2,507.6 599,507.9 599.8,507.7 600.6,507.1 601.4,506.9 602.2,507.7 603,507.3 603.8,506.9 604.6,506.8 605.4,507.5 606.3,508.1 607.1,507.3 607.9,507.1 608.7,506.8 609.5,506.7 610.3,506.9 611.1,507.1 611.9,506.9 612.7,506 613.5,506.5 614.3,506.9 615.2,507.1 616,507.4 616.8,506.8 617.6,505.5 618.4,505.9 619.2,506.3 620,506.9 620.8,508.1 621.6,507.7 622.4,507.1 623.3,506.8 624.1,506.8 624.9,506.6 625.7,506.7 626.5,506.6 627.3,506.4 628.1,506.7 628.9,507.3 629.7,507.2 630.5,507.1 631.4,507.1 632.2,506.4 633,506.9 633.8,507.5 634.6,507.5 635.4,507.7 636.2,507 637,507 637.8,506.7 638.6,506.4 639.5,506.3 640.3,506.8 641.1,506.6 641.9,506 642.7,506 643.5,506.6 644.3,507.6 645.1,507.5 645.9,507 646.7,506.4 647.6,506.2 648.4,506.4 649.2,507 650,507.4 650.8,507.9 651.6,508.1 652.4,506.8 653.2,506.1 654,506 654.8,507.1 655.6,507.4 656.5,507 657.3,506.7 658.1,506.6 658.9,506 659.7,505.5 660.5,505.9 661.3,506.7 662.1,507.3 662.9,507.5 663.7,506.7 664.6,506.1 665.4,506.2 666.2,506.6 667,506.7 667.8,507.2 668.6,507.4 669.4,507.1 670.2,506.4 671,507 671.8,507.6 672.7,507.8 673.5,506.3 674.3,506.5 675.1,507.8 675.9,508.6 676.7,508.6 677.5,507.8 678.3,506.8 679.1,506 679.9,506.6 680.8,507 681.6,507.5 682.4,507 683.2,506.6 684,506.4 684.8,506.2 685.6,506.5 686.4,507.4 687.2,507.2 688,507.3 688.9,506.4 689.7,506 690.5,505.9 691.3,506.8 692.1,507.4 692.9,507.5 693.7,507 694.5,506.8 695.3,507 696.1,507.5 696.9,506.6 697.8,505.4 698.6,505.5 699.4,505.5 700.2,505.4 701,506.2 701.8,506.7 702.6,507 703.4,506.7 704.2,506.6 705,507.6 705.9,508.3 706.7,507.9 707.5,507.4 708.3,506.8 709.1,506.6 709.9,507 710.7,507.6 711.5,507.5 712.3,506.6 713.1,506.7 714,507.2 714.8,507.5 715.6,506.9 716.4,506.7 717.2,507.6 718,508.1 718.8,507.4 719.6,507.3 720.4,506.4 721.2,506.5 722.1,506.3 722.9,505.3 723.7,506.6 724.5,507.7 725.3,508 726.1,507.8 726.9,508.4 727.7,507.8 728.5,507.3 729.3,506.7 730.2,506.5 731,507 731.8,507.5 732.6,506.7 733.4,506.3 734.2,505.3 735,505.1 735.8,505.6 736.6,506.6 737.4,507.8 738.2,507.7 739.1,506.3 739.9,505.8 740.7,506.3 741.5,506.4 742.3,505.8 743.1,506.7 743.9,508.7 744.7,508.9 745.5,507.9 746.3,506.9 747.2,506.1 748,506.2 748.8,506.7 749.6,507.3 750.4,507.8 751.2,507.2 752,507.1 752.8,507.3 753.6,507.7 754.4,507.7 755.3,506.7 756.1,506.5 756.9,506.4 757.7,506.7 758.5,508 759.3,508.3 760.1,507.3 760.9,507 761.7,506.9 762.5,506.8 763.4,506.5 764.2,506.1 765,506.9 765.8,507.7 766.6,508 767.4,507.8 768.2,507.2 769,506.4 769.8,506.1 770.6,506.1 771.4,505.8 772.3,505.3 773.1,506.1 773.9,507.3 774.7,507.6 775.5,507.4 776.3,506.4 777.1,505.9 777.9,506.2 778.7,506.9 779.5,506.8 780.4,506.6 781.2,506.9 782,507.3 782.8,506.5 783.6,506.5 784.4,507 785.2,506.7 786,505.9 786.8,505.7 787.6,506.5 788.5,507 789.3,507.1 790.1,507.6 790.9,508.1 791.7,507.1 792.5,505.6 793.3,505.3 794.1,506.5 794.9,507.9 795.7,507.8 796.6,507.1 797.4,505.7 798.2,505.5 799,507.8 799.8,508.6 800.6,507.7 801.4,506.6 802.2,505.5 803,505.2 803.8,506.1 804.7,507.2 805.5,507.7 806.3,506.8 807.1,505.8 807.9,506.2 808.7,507.1 809.5,506.6 810.3,506.6 811.1,506.6 811.9,506.9 812.7,507.5 813.6,506.7 814.4,505.9 815.2,504.8 816,505.9 816.8,507.9 817.6,508.6 818.4,507.9 819.2,506.5 820,506.1 820.8,506.4 821.7,506.8 822.5,508.4 823.3,509.3 824.1,508.2 824.9,506.2 825.7,505.1 826.5,505.6 827.3,506.9 828.1,507.2 828.9,506.5 829.8,506.5 830.6,507 831.4,507.1 832.2,507 833,507.6 833.8,507.8 834.6,507 835.4,506 836.2,505.8 837,505.9 837.9,507.2 838.7,507.7 839.5,507.7 840.3,507.2 841.1,506.4 841.9,505.6 842.7,505 843.5,505.4 844.3,507.4 845.1,507.9 846,507.1 846.8,507 847.6,507.2 848.4,507.2 849.2,506.9 850,507.3 850.8,506.8 851.6,506.5 852.4,506.9 853.2,507.2 854,506.4 854.9,506.6 855.7,507.4 856.5,508 857.3,508.3 858.1,507.2 858.9,506.5 859.7,507 860.5,507.6 861.3,507.3 862.1,506.5 863,506.5 863.8,506.1 864.6,505.5 865.4,505.5 866.2,506.9 867,507.6 867.8,508.4 868.6,508.3 869.4,507.6 870.2,506.9 871.1,507.1 871.9,507.3 872.7,507.2 873.5,506.5 874.3,506.8 875.1,506.5 875.9,507.2 876.7,507.2 877.5,506.8 878.3,506.2 879.2,506.2 880,506.7 880.8,507.4 881.6,508.2 882.4,507.9 883.2,507.3 884,506.9 884.8,506.6 885.6,506.9 886.4,507.1 887.3,506.7 888.1,506.4 888.9,506.5 889.7,508.1 890.5,507.7 891.3,506.9 892.1,507 892.9,508 893.7,508 894.5,506.6 895.3,505.5 896.2,505.4 897,506.3 897.8,507 898.6,507.4 899.4,507.8 900.2,507.1 901,506.1 901.8,505.8 902.6,505.6 903.4,506 904.3,507 905.1,507.7 905.9,507.1 906.7,506.5 907.5,506.9 908.3,506.8 909.1,506.8 909.9,506.6 910.7,506.4 911.5,506.8 912.4,506.3 913.2,506.2 914,507 914.8,507.8 915.6,506.9 916.4,506.2 917.2,506.5 918,507.6 918.8,507.9 919.6,507.9 920.5,506.7 921.3,505.8 922.1,506.4 922.9,507.8 923.7,507.2 924.5,506.4 925.3,505.9 926.1,506.4 926.9,507.1 927.7,507.8 928.6,508.4 929.4,508.6 930.2,507.2 931,505.7 931.8,505.8 932.6,506.9 933.4,508 934.2,507.7 935,505.7 935.8,505.2 936.6,506.2 937.5,507.1 938.3,507.9 939.1,507.7 939.9,507 940.7,506.5 941.5,506.2 942.3,506.8 943.1,507.6 943.9,508 944.7,507.4 945.6,507.3 946.4,507.2 947.2,507 948,506.6 948.8,506.9 949.6,506.8 950.4,506.8 951.2,506.7 952,506.5 952.8,506.9 953.7,507.2 954.5,507.5 955.3,507.4 956.1,506.8 956.9,506.3 957.7,506.2 958.5,505.9 959.3,506.3 960.1,507.1 960.9,507.3 961.8,507 962.6,506.7 963.4,506.4 964.2,506.8 965,507 965.8,506.3 966.6,505.7 967.4,506.1 968.2,507.2 969,507.8 969.9,507.2 970.7,506.8 971.5,507.1 972.3,507.4 973.1,508.1 973.9,507.5 974.7,507.1 975.5,506.5 976.3,505.7 977.1,505.6 977.9,505.9 978.8,507.3 979.6,508.1 980.4,508.3 981.2,507.8 982,506.3 982.8,505.4 983.6,506.6 984.4,507.9 985.2,508.2 986,508 986.9,506.2 987.7,505.3 988.5,506 989.3,507 990.1,506.9 990.9,507.4 991.7,507.1 992.5,506.4 993.3,506.6 994.1,507.7 995,508.4 995.8,508.3 996.6,507.6 997.4,507.1 998.2,507 999,506.4 999.8,506.8 1000.6,507.4 1001.4,506.5 1002.2,506.3 1003.1,506.3 1003.9,506.5 1004.7,506.3 1005.5,506.3 1006.3,505.7 1007.1,505.8 1007.9,506.5 1008.7,507.5 1009.5,507.4 1010.3,507.4 1011.2,506.4 1012,505.4 1012.8,506.2 1013.6,507.3 1014.4,507.5 1015.2,507.6 1016,506.8 1016.8,506.2 1017.6,506.5 1018.4,506.2 1019.2,506.1 1020.1,506.3 1020.9,506.7 1021.7,507.1 1022.5,507.1 1023.3,506.9 1024.1,507.4 1024.9,507.4 1025.7,506.3 1026.5,505.8 1027.3,506.7 1028.2,507.2 1029,507.2 1029.8,507.1 1030.6,507.2 1031.4,507.2 1032.2,507.2 1033,507.6 1033.8,507.7 1034.6,507.6 1035.4,507 1036.3,506.5 1037.1,506.3 1037.9,505.7 1038.7,506.2 1039.5,506.8 1040.3,506.9 1041.1,507 1041.9,507.1 1042.7,507.1 1043.5,506.8 1044.4,506.8 1045.2,506.1 1046,505.8 1046.8,506.5 1047.6,507.3 1048.4,507.6 1049.2,507.2 1050,506.9 1050.8,506.7 1051.6,507.5 1052.5,507.9 1053.3,506.9 1054.1,506.5 1054.9,506.2 1055.7,506.2 1056.5,506.6 1057.3,506.8 1058.1,506.7 1058.9,506.7 1059.7,506.9 1060.5,507.3 1061.4,507.1 1062.2,507.4 1063,507.5 1063.8,508.1 1064.6,507.4 1065.4,506.5 1066.2,505.5 1067,505.6 1067.8,507 1068.6,507.8 1069.5,507.2 1070.3,506.9 1071.1,506.7 1071.9,507.1 1072.7,507.1 1073.5,507.3 1074.3,507.1 1075.1,507.1 1075.9,507.1 1076.7,507.3 1077.6,507.5 1078.4,506.8 1079.2,506.3 1080,505.8 1080.8,506.8 1081.6,507.4 1082.4,507.2 1083.2,506.8 1084,506.5 1084.8,506.8 1085.7,507.3 1086.5,507.9 1087.3,507.4 1088.1,506.3 1088.9,506.4 1089.7,506.6 1090.5,507 1091.3,506.9 1092.1,507.3 1092.9,507.1 1093.8,506.7 1094.6,507.3 1095.4,507.5 1096.2,508 1097,507.6 1097.8,506.9 1098.6,507.4 1099.4,507.4 1100.2,507.5 1101,507.4 1101.8,507.4 1102.7,507.3 1103.5,506.1 1104.3,506.1 1105.1,506.4 1105.9,506.4 1106.7,506.6 1107.5,506.9 1108.3,507.5 1109.1,507.4 1109.9,507.1 1110.8,506.6 1111.6,506.9 1112.4,507 1113.2,506.6 1114,507 1114.8,507.2 1115.6,506.7 1116.4,506.8 1117.2,506.7 1118,506.6 1118.9,506.8 1119.7,507.3 1120.5,507.7 1121.3,507.6 1122.1,507.6 1122.9,506.9 1123.7,506.4 1124.5,506.7 1125.3,507.4 1126.1,508.3 1127,508.2 1127.8,506.8 1128.6,506.2 1129.4,506.9 1130.2,507.7 1131,508.1 1131.8,507.6 1132.6,506.6 1133.4,506.6 1134.2,506.6 1135.1,507.2 1135.9,507.7 1136.7,507.1 1137.5,506.9 1138.3,505.8 1139.1,504.8 1139.9,505.6 1140.7,507.1 1141.5,508.2 1142.3,507.8 1143.1,507 1144,506.7 1144.8,507.5 1145.6,508.5 1146.4,507.7 1147.2,506.5 1148,506.5 1148.8,507.8 1149.6,508.6 1150.4,508.9 1151.2,507.5 1152.1,505.9 1152.9,505.1 1153.7,505.3 1154.5,506.4 1155.3,507.5 1156.1,507.4 1156.9,506.5 1157.7,506.1 1158.5,506.3 1159.3,507 1160.2,507.4 1161,507.3 1161.8,507.5 1162.6,507.2 1163.4,507 1164.2,507.6 1165,507.5 1165.8,507 1166.6,506.5 1167.4,505.9 1168.3,505.7 1169.1,506.2 1169.9,506.7 1170.7,506.8 1171.5,506.7 1172.3,506.6 1173.1,507.3 1173.9,507.1 1174.7,506.9 1175.5,507 1176.3,507.4 1177.2,507.1 1178,507.6 1178.8,508 1179.6,507.8 1180.4,507.8 1181.2,507.2 1182,506.1 1182.8,505.7 1183.6,506.6 1184.4,507.4 1185.3,507.3 1186.1,507.5 1186.9,506.5 1187.7,506.6 1188.5,506.1 1189.3,506.7 1190.1,508.1 1190.9,508 1191.7,507.2 1192.5,506 1193.4,505.7 1194.2,506.6 1195,507.7 1195.8,508.1 1196.6,507.7 1197.4,507 1198.2,506.7 1199,506.9 1199.8,506.8 1200.6,506.5 1201.5,506 1202.3,506.6 1203.1,507.3 1203.9,506.9 1204.7,506.3 1205.5,505.9 1206.3,506 1207.1,506.3 1207.9,507.4 1208.7,508.3 1209.6,507.7 1210.4,506.5 1211.2,505.8 1212,505.7 1212.8,505.8 1213.6,505.8 1214.4,506.5 1215.2,507.5 1216,507.8 1216.8,507.2 1217.6,506.7 1218.5,506 1219.3,505.8 1220.1,505.6 1220.9,505.7 1221.7,506.3 1222.5,507.9 1223.3,508.3 1224.1,507.5 1224.9,506.8 1225.7,506.8 1226.6,506.7 1227.4,506.9 1228.2,506.4 1229,506.7 1229.8,507.4 1230.6,508.1 1231.4,508.2 1232.2,507.7 1233,506.4 1233.8,506.2 1234.7,506.5 1235.5,506.9 1236.3,507.3 1237.1,507 1237.9,507.3 1238.7,507.1 1239.5,506.8 1240.3,506.9 1241.1,506.8 1241.9,507.2 1242.8,507 1243.6,506.5 1244.4,506.9 1245.2,506.9 1246,506.4 1246.8,506 1247.6,505.8 1248.4,507.1 1249.2,507.5 1250,507.3 1250.9,507.1 1251.7,506.5 1252.5,506.5 1253.3,507.4 1254.1,507.4 1254.9,506.2 1255.7,506 1256.5,506.7 1257.3,507.9 1258.1,507.6 1258.9,507.1 1259.8,506.8 1260.6,506.4 1261.4,506.4 1262.2,506.8 1263,507.2 1263.8,507.1 1264.6,507 1265.4,507.1 1266.2,506.9 1267,507.3 1267.9,506.6 1268.7,505.8 1269.5,505.9 1270.3,507 1271.1,507.6 1271.9,507.1 1272.7,506.9 1273.5,505.9 1274.3,505.8 1275.1,506.9 1276,508 1276.8,508.4 1277.6,508.3 1278.4,507.8 1279.2,507.4 1280,506.4 1280.8,506.3 1281.6,506.5 1282.4,507 1283.2,507 1284.1,506.9 1284.9,507.2 1285.7,506.7 1286.5,506.1 1287.3,506.2 1288.1,506.5 1288.9,507.1 1289.7,507.8 1290.5,507.3 1291.3,506.6 1292.2,506.5 1293,506.6 1293.8,507.4 1294.6,507.4 1295.4,506.4 1296.2,506.1"/>
<polyline fill="none" stroke="#ff0000" stroke-width="4" stroke-linecap="round" stroke-linejoin="round" points="330.5,696 348.5,696 348.5,697 406.5,697 406.5,698 464.5,698 464.5,699 522.5,699 522.5,700 578.5,700 578.5,701 636.5,701 636.5,702 694.5,702 694.5,703 752.5,703 752.5,704 810.5,704 810.5,705 866.5,705 866.5,706 924.5,706 924.5,707 982.5,707 982.5,708 1040.5,708 1040.5,709 1098.5,709 1098.5,710 1156.5,710 1156.5,711 1212.5,711 1212.5,712 1270.5,712 1270.5,713 1304.5,713"/>
<polyline fill="none" stroke="#bebebe" stroke-width="2.2" stroke-linejoin="round" points="324.9,728.4 326.5,740.2 328.2,763.7 329.8,775.5 331.4,764.8 333.1,743.4 334.7,732.7 336.4,736 338.1,743.8 339.9,751.6 341.6,754.9 343.1,751 344.5,747 346.1,750.9 347.8,758.8 349.4,762.7 351.1,752.9 352.9,743.1 354.4,749.1 355.8,761.2 357.3,767.3 358.9,760.8 360.6,747.7 362.2,741.2 364.1,746.1 366.1,751 368.1,739.2 370,727.5 371.8,740.5 373.7,766.4 375.5,779.4 376.9,768.2 378.4,745.9 379.8,734.7 381.4,749.2 383.1,778.2 384.7,792.7 386.4,778.8 388.1,745.4 389.9,711.9 391.6,698 393.4,710.2 395.2,739.7 397,769.2 398.8,781.4 400.3,774.8 401.8,758.9 403.2,742.9 404.7,736.3 406.2,743.5 407.6,760.8 409.1,778.1 410.6,785.3 412.4,774.1 414.1,747 415.9,720 417.6,708.8 419.2,720.4 420.8,748.5 422.3,776.6 423.9,788.2 425.6,769.6 427.3,732.3 429,713.7 430.6,725 432.1,752.5 433.7,779.9 435.3,791.2 436.9,779 438.5,749.7 440,720.4 441.6,708.2 443.1,719.5 444.6,746.8 446,774 447.5,785.3 449.2,775.5 450.9,752 452.6,728.4 454.3,718.6 455.8,729.2 457.2,754.9 458.7,780.6 460.2,791.2 461.7,778.6 463.1,748.1 464.6,717.5 466.1,704.9 467.7,718.7 469.3,751.9 470.9,785.2 472.5,799 474.1,783.6 475.6,746.6 477.2,709.5 478.8,694.1 480.3,712.9 481.8,758.3 483.2,803.7 484.7,822.5 486.2,802 487.6,752.5 489.1,702.9 490.6,682.4 492.1,699.2 493.6,739.8 495,780.3 496.5,797.1 498.3,775.3 500.2,731.6 502,709.8 503.6,722.9 505.1,754.4 506.6,785.9 508.2,799 509.7,783.4 511.1,745.6 512.6,707.8 514.1,692.2 515.7,709 517.2,749.5 518.8,790.1 520.4,806.9 522.2,780.3 524.1,727.2 525.9,700.6 527.5,714.7 529.1,748.9 530.8,783 532.4,797.1 534.1,776.2 535.9,734.6 537.6,713.7 539.1,724.5 540.5,750.5 542,776.5 543.5,787.3 545.1,769.6 546.8,734.4 548.4,716.7 550.2,732.6 551.9,764.5 553.7,780.4 555.3,768.6 557,740.2 558.6,711.8 560.2,700 561.7,718.2 563.2,762.2 564.6,806.3 566.1,824.5 567.8,805.2 569.4,758.6 571.1,712 572.7,692.7 574.3,706.8 576,741 577.6,775.1 579.2,789.2 580.8,776.4 582.4,745.6 583.9,714.8 585.5,702 587.3,734.8 589,800.5 590.8,833.3 592.3,811.2 593.8,757.9 595.4,704.5 596.9,682.4 598.5,698.3 600.2,736.8 601.9,775.3 603.5,791.2 605.3,769.1 607.2,725 609,702.9 610.5,720.4 612,762.7 613.4,805 614.9,822.5 616.5,804.6 618.1,761.2 619.8,717.9 621.4,700 623.2,716.4 624.9,749.3 626.7,765.7 628.1,757.6 629.6,741.4 631,733.3 632.8,749 634.7,780.4 636.5,796.1 638,782.5 639.6,749.5 641.2,716.5 642.7,702.9 644.2,715.5 645.7,746 647.1,776.6 648.6,789.2 650.4,766.2 652.3,720.1 654.1,697.1 655.7,713.9 657.2,754.4 658.8,795 660.4,811.8 661.9,793.6 663.3,749.7 664.8,705.8 666.3,687.6 668.1,719.4 670,782.9 671.8,814.7 673.2,797.8 674.7,756.9 676.1,715.9 677.6,699 679.2,712.4 680.8,744.6 682.3,776.8 683.9,790.2 685.7,781.2 687.5,759.5 689.2,737.8 691,728.8 692.7,736.6 694.4,755.3 696.1,774 697.8,781.8 699.2,771.9 700.6,748 702.1,724.2 703.5,714.3 705.3,728 707.2,755.3 709,769 710.6,771.1 712.3,775.4 713.9,777.5 715.5,769.2 717.1,749.2 718.8,729.3 720.4,721 721.9,729 723.3,748.2 724.8,767.5 726.3,775.5 727.8,767 729.2,746.6 730.7,726.1 732.2,717.6 733.8,730.9 735.3,763 736.9,795.1 738.4,808.4 740,792.7 741.6,754.9 743.3,717.1 744.9,701.4 746.5,708.8 748,728.3 749.6,752.5 751.1,772 752.7,779.4 754.3,773 755.9,757.6 757.4,742.3 759,735.9 760.6,748.1 762.3,772.6 763.9,784.9 765.4,773.8 766.8,746.9 768.3,719.9 769.8,708.8 771.4,719.4 773,744.9 774.5,770.4 776.1,781 777.6,773.9 779,756.7 780.5,739.5 782,732.4 783.5,740.4 784.9,759.8 786.3,779.3 787.8,787.3 789.4,776.1 791,749 792.7,722 794.3,710.8 795.8,718.8 797.2,739.8 798.7,765.7 800.1,786.7 801.6,794.7 803.1,781.8 804.7,750.8 806.2,719.8 807.8,706.9 809.4,730.9 811.1,778.9 812.7,802.9 814.3,788 816,752 817.6,715.9 819.2,701 820.7,714.4 822.2,746.6 823.6,778.8 825.1,792.2 826.9,772.6 828.6,733.3 830.4,713.7 832.1,723.7 833.8,747.8 835.6,771.8 837.3,781.8 838.9,779.4 840.5,772.8 842.1,763.2 843.8,752.5 845.4,742.9 847,736.3 848.6,733.9 850,737.9 851.4,742 853.2,746.9 855.1,756.8 856.9,761.8 858.5,758.4 860.2,751.5 861.8,748 863.2,752.3 864.7,762.8 866.1,773.2 867.6,777.5 869.1,768.2 870.5,745.6 872,723 873.5,713.7 875.2,722.8 877,744.6 878.7,766.4 880.4,775.5 882.1,770.3 883.8,757.9 885.6,745.4 887.3,740.2 889,751.5 890.6,762.7 892.1,756 893.5,739.7 895,723.4 896.5,716.7 898,727.9 899.5,754.9 900.9,781.9 902.4,793.1 904,786.5 905.5,769.4 907.1,748.2 908.6,731.1 910.2,724.5 912,732.6 913.9,748.8 915.7,756.9 917.2,751.3 918.7,737.8 920.1,724.2 921.6,718.6 923.1,731.7 924.7,763.2 926.2,794.7 927.8,807.8 929.4,796.5 931,766.8 932.5,730.2 934.1,700.5 935.7,689.2 937.5,716.9 939.4,772.3 941.2,800 942.8,784.6 944.4,747.4 945.9,710.1 947.5,694.7 949.1,709.5 950.7,745.4 952.3,781.3 953.9,796.1 955.5,789.5 957.1,772.2 958.6,750.8 960.2,733.5 961.8,726.9 963.4,743.9 965.1,778 966.7,795.1 968.3,776.2 969.9,730.6 971.5,685 973.1,666.1 974.7,690.5 976.2,749.2 977.8,808 979.4,832.4 981,815 982.6,773.1 984.3,731.1 985.9,713.7 987.7,726.1 989.4,750.9 991.2,763.3 992.8,759.4 994.3,749.2 995.9,736.6 997.4,726.4 999,722.5 1000.8,738.2 1002.5,769.6 1004.3,785.3 1005.8,779.4 1007.2,765.2 1008.7,751 1010.2,745.1 1011.9,748 1013.6,753.9 1015.3,756.9 1017.1,750.2 1018.8,736.7 1020.6,730 1022.1,735.5 1023.5,748.8 1025,762.1 1026.5,767.6 1028.3,754.6 1030,728.7 1031.8,715.7 1033.2,729.8 1034.7,763.8 1036.1,797.7 1037.6,811.8 1039.3,796.3 1040.9,758.9 1042.6,721.4 1044.3,705.9 1045.9,716.7 1047.5,742.6 1049.2,768.6 1050.8,779.4 1052.3,771.4 1053.8,752 1055.2,732.5 1056.7,724.5 1058.5,732.4 1060.3,751.4 1062.1,770.5 1063.9,778.4 1065.5,774.8 1067.2,764.9 1068.8,751.5 1070.4,738 1072.1,728.1 1073.7,724.5 1075.3,731.7 1077,749.2 1078.6,766.7 1080.2,773.9 1081.7,765.4 1083.2,748.3 1084.7,739.8 1086.2,746.3 1087.7,762 1089.1,777.8 1090.6,784.3 1092.1,772.4 1093.5,743.6 1095,714.8 1096.5,702.9 1098,714.2 1099.5,741.6 1100.9,769.1 1102.4,780.4 1104.1,764.1 1105.9,731.4 1107.6,715.1 1109.4,738.3 1111.1,784.6 1112.9,807.8 1114.4,792 1116,753.9 1117.5,715.8 1119,700 1120.8,719.4 1122.5,758.1 1124.3,777.5 1125.8,768.8 1127.2,747.9 1128.7,726.9 1130.2,718.2 1131.8,729.8 1133.3,757.6 1134.9,785.5 1136.5,797.1 1138.1,785.9 1139.7,758.9 1141.3,731.8 1142.9,720.6 1144.7,730.5 1146.4,750.3 1148.2,760.2 1150,754.5 1151.9,743 1153.7,737.3 1155.3,748.8 1157,771.8 1158.6,783.3 1160.1,772.8 1161.5,747.5 1163,722.3 1164.5,711.8 1166.1,728.4 1167.8,761.8 1169.4,778.4 1171,764.8 1172.7,737.7 1174.3,724.1 1176.1,742.7 1177.8,780 1179.6,798.6 1181.1,784.5 1182.5,750.3 1184,716.1 1185.5,702 1187.1,713.4 1188.8,740.9 1190.4,768.4 1192,779.8 1193.6,770.6 1195.2,748.2 1196.8,725.9 1198.4,716.7 1200.1,729.2 1201.8,759.4 1203.4,789.5 1205.1,802 1206.6,792.9 1208.1,769.1 1209.5,739.8 1211,716 1212.5,706.9 1214.2,717.7 1216,743.6 1217.7,769.6 1219.4,780.4 1221.2,766 1222.9,737.3 1224.7,722.9 1226.5,739.7 1228.4,773.4 1230.2,790.2 1231.9,781.1 1233.7,759.1 1235.4,737.1 1237.1,728 1238.7,732.7 1240.2,745.1 1241.8,760.4 1243.3,772.8 1244.9,777.5 1246.6,770.3 1248.3,753 1250.1,735.6 1251.8,728.4 1253.4,734 1255.1,748.7 1256.7,767 1258.4,781.7 1260,787.3 1261.7,773.3 1263.4,745.4 1265.1,731.4 1267,745.1 1269,758.8 1270.4,750 1271.9,732.3 1273.3,723.5 1274.9,735.1 1276.6,758.4 1278.2,770 1279.8,766 1281.5,757.9 1283.1,753.9 1284.6,755.4 1286.1,756.9 1287.7,754.1 1289.4,748.5 1291,745.7 1293,747.6 1294.9,749.6"/>
<path d="M151.2 902.6H163.3M157.2 889.4H163.3M157.2 876.2H163.3M157.2 863H163.3M157.2 849.8H163.3M157.2 836.6H163.3M157.2 823.4H163.3M157.2 810.2H163.3M157.2 797H163.3M157.2 783.8H163.3M151.2 770.6H163.3M157.2 757.4H163.3M157.2 744.2H163.3M157.2 731H163.3M157.2 717.8H163.3M157.2 704.6H163.3M157.2 691.4H163.3M157.2 678.2H163.3M157.2 665H163.3M157.2 651.8H163.3M151.2 638.6H163.3M157.2 625.4H163.3M157.2 612.2H163.3M157.2 599H163.3M157.2 585.8H163.3M157.2 572.6H163.3M157.2 559.4H163.3M157.2 546.2H163.3M157.2 533H163.3M157.2 519.8H163.3M151.2 506.6H163.3M157.2 493.4H163.3M157.2 480.2H163.3M157.2 467H163.3M157.2 453.8H163.3M157.2 440.6H163.3M157.2 427.4H163.3M157.2 414.2H163.3M157.2 401H163.3M157.2 387.8H163.3M151.2 374.6H163.3M157.2 361.4H163.3M157.2 348.2H163.3M157.2 335H163.3M157.2 321.8H163.3M157.2 308.6H163.3M157.2 295.4H163.3M157.2 282.2H163.3M157.2 269H163.3M157.2 255.8H163.3M151.2 242.6H163.3M157.2 229.4H163.3M157.2 216.2H163.3M157.2 203H163.3M157.2 189.8H163.3M157.2 176.6H163.3M157.2 163.4H163.3M157.2 150.2H163.3M157.2 137H163.3M157.2 123.8H163.3M151.2 110.6H163.3M163.3 902.6V914.4M163.3 110.6V99.2M179.5 902.6V908.7M179.5 110.6V105.3M195.7 902.6V908.7M195.7 110.6V105.3M211.9 902.6V908.7M211.9 110.6V105.3M228.1 902.6V908.7M228.1 110.6V105.3M244.3 902.6V908.7M244.3 110.6V105.3M260.5 902.6V908.7M260.5 110.6V105.3M276.7 902.6V908.7M276.7 110.6V105.3M292.9 902.6V908.7M292.9 110.6V105.3M309.1 902.6V908.7M309.1 110.6V105.3M325.2 902.6V914.4M325.2 110.6V99.2M341.4 902.6V908.7M341.4 110.6V105.3M357.6 902.6V908.7M357.6 110.6V105.3M373.8 902.6V908.7M373.8 110.6V105.3M390 902.6V908.7M390 110.6V105.3M406.2 902.6V908.7M406.2 110.6V105.3M422.4 902.6V908.7M422.4 110.6V105.3M438.6 902.6V908.7M438.6 110.6V105.3M454.8 902.6V908.7M454.8 110.6V105.3M471 902.6V908.7M471 110.6V105.3M487.2 902.6V914.4M487.2 110.6V99.2M503.4 902.6V908.7M503.4 110.6V105.3M519.6 902.6V908.7M519.6 110.6V105.3M535.8 902.6V908.7M535.8 110.6V105.3M552 902.6V908.7M552 110.6V105.3M568.2 902.6V908.7M568.2 110.6V105.3M584.4 902.6V908.7M584.4 110.6V105.3M600.6 902.6V908.7M600.6 110.6V105.3M616.8 902.6V908.7M616.8 110.6V105.3M633 902.6V908.7M633 110.6V105.3M649.2 902.6V914.4M649.2 110.6V99.2M665.4 902.6V908.7M665.4 110.6V105.3M681.6 902.6V908.7M681.6 110.6V105.3M697.8 902.6V908.7M697.8 110.6V105.3M714 902.6V908.7M714 110.6V105.3M730.2 902.6V908.7M730.2 110.6V105.3M746.3 902.6V908.7M746.3 110.6V105.3M762.5 902.6V908.7M762.5 110.6V105.3M778.7 902.6V908.7M778.7 110.6V105.3M794.9 902.6V908.7M794.9 110.6V105.3M811.1 902.6V914.4M811.1 110.6V99.2M827.3 902.6V908.7M827.3 110.6V105.3M843.5 902.6V908.7M843.5 110.6V105.3M859.7 902.6V908.7M859.7 110.6V105.3M875.9 902.6V908.7M875.9 110.6V105.3M892.1 902.6V908.7M892.1 110.6V105.3M908.3 902.6V908.7M908.3 110.6V105.3M924.5 902.6V908.7M924.5 110.6V105.3M940.7 902.6V908.7M940.7 110.6V105.3M956.9 902.6V908.7M956.9 110.6V105.3M973.1 902.6V914.4M973.1 110.6V99.2M989.3 902.6V908.7M989.3 110.6V105.3M1005.5 902.6V908.7M1005.5 110.6V105.3M1021.7 902.6V908.7M1021.7 110.6V105.3M1037.9 902.6V908.7M1037.9 110.6V105.3M1054.1 902.6V908.7M1054.1 110.6V105.3M1070.3 902.6V908.7M1070.3 110.6V105.3M1086.5 902.6V908.7M1086.5 110.6V105.3M1102.7 902.6V908.7M1102.7 110.6V105.3M1118.9 902.6V908.7M1118.9 110.6V105.3M1135.1 902.6V914.4M1135.1 110.6V99.2M1151.2 902.6V908.7M1151.2 110.6V105.3M1167.4 902.6V908.7M1167.4 110.6V105.3M1183.6 902.6V908.7M1183.6 110.6V105.3M1199.8 902.6V908.7M1199.8 110.6V105.3M1216 902.6V908.7M1216 110.6V105.3M1232.2 902.6V908.7M1232.2 110.6V105.3M1248.4 902.6V908.7M1248.4 110.6V105.3M1264.6 902.6V908.7M1264.6 110.6V105.3M1280.8 902.6V908.7M1280.8 110.6V105.3M1297 902.6V914.4M1297 110.6V99.2M1313.2 902.6V908.7M1313.2 110.6V105.3M1329.4 902.6V908.7M1329.4 110.6V105.3M1345.6 902.6V908.7M1345.6 110.6V105.3M1361.8 902.6V908.7M1361.8 110.6V105.3M1378 902.6V908.7M1378 110.6V105.3M1394.2 902.6V908.7M1394.2 110.6V105.3M1410.4 902.6V908.7M1410.4 110.6V105.3M1426.6 902.6V908.7M1426.6 110.6V105.3M1442.8 902.6V908.7M1442.8 110.6V105.3M1459 902.6V914.4M1459 110.6V99.2M1459 501H1465M1459 494.9H1465M1459 488.8H1465M1459 482.7H1465M1459 476.6H1465M1459 470.5H1465M1459 464.4H1465M1459 458.3H1465M1459 452.2H1465M1459 446.1H1470.8M1459 440H1465M1459 433.9H1465M1459 427.8H1465M1459 421.7H1465M1459 415.6H1465M1459 409.5H1465M1459 403.4H1465M1459 397.3H1465M1459 391.2H1465M1459 385.1H1470.8M1459 379H1465M1459 372.9H1465M1459 366.8H1465M1459 360.7H1465M1459 354.6H1465M1459 348.5H1465M1459 342.4H1465M1459 336.3H1465M1459 330.2H1465M1459 324.1H1470.8M1459 318H1465M1459 311.9H1465M1459 305.8H1465M1459 299.7H1465M1459 293.6H1465M1459 287.5H1465M1459 281.4H1465M1459 275.3H1465M1459 269.2H1465M1459 263.1H1470.8M1459 257H1465M1459 250.9H1465M1459 244.8H1465M1459 238.7H1465M1459 232.6H1465M1459 226.5H1465M1459 220.4H1465M1459 214.3H1465M1459 208.2H1465M1459 202.1H1470.8M1459 196H1465M1459 189.9H1465M1459 183.8H1465M1459 177.7H1465M1459 171.6H1465M1459 165.5H1465M1459 159.4H1465M1459 153.3H1465M1459 147.2H1465M1459 141.1H1470.8M1459 135H1465M1459 128.9H1465M1459 122.8H1465M1459 116.7H1465M1459 110.6H1465M1459 902.2H1470.8M1459 889H1465M1459 875.8H1465M1459 862.6H1465M1459 849.4H1465M1459 836.2H1470.8M1459 823H1465M1459 809.8H1465M1459 796.6H1465M1459 783.4H1465M1459 770.2H1470.8M1459 757H1465M1459 743.8H1465M1459 730.6H1465M1459 717.4H1465M1459 704.2H1470.8M1459 691H1465M1459 677.8H1465M1459 664.6H1465M1459 651.4H1465M1459 638.2H1470.8M1459 625H1465M1459 611.8H1465M1459 598.6H1465M1459 585.4H1465M1459 572.2H1470.8M1459 559H1465M1459 545.8H1465M1459 532.6H1465M1459 519.4H1465" stroke="#000" stroke-width="1.3" fill="none"/>
<rect x="163.3" y="110.6" width="1295.7" height="792.0" fill="none" stroke="#000" stroke-width="2.2"/>
<rect x="167.1" y="18.5" width="372.3" height="163.8" fill="#fff" stroke="#606060" stroke-width="1.2"/>
<path d="M204 39.3H260" stroke="#0000ff" stroke-width="1"/>
<circle cx="232.3" cy="39.3" r="4.3" fill="#0000ff"/>
<path d="M204 69.4H260" stroke="rgb(0,200,200)" stroke-width="1"/>
<circle cx="232.3" cy="69.4" r="4.3" fill="rgb(0,200,200)"/>
<path d="M204 100.0H260" stroke="#000" stroke-width="2.9"/>
<path d="M204 130.1H260" stroke="#bebebe" stroke-width="2.6"/>
<path d="M204 161.3H260" stroke="#ff0000" stroke-width="1"/>
<circle cx="232.3" cy="161.3" r="4.3" fill="#ff0000"/>
<g style="will-change:transform">
<text x="279.6" y="48" class="lg">Pressure</text>
<text x="279.6" y="78.1" class="lg">100 P, band<tspan dy="2.5">−</tspan><tspan dy="-2.5">passed</tspan></text>
<text x="279.6" y="108.7" class="lg">Residual</text>
<text x="279.6" y="138.8" class="lg">... last 10 min.</text>
<text x="279.6" y="170" class="lg">Theor.Tide</text>
<path d="M211.7 480.4V533M204.6 480.4H218.8M204.6 533H218.8" stroke="#bebebe" stroke-width="2.4" fill="none"/>
<circle cx="211.7" cy="506.4" r="4.1" fill="#000"/>
<text transform="translate(244.2,506.8) rotate(-90)" text-anchor="middle" class="lg">Typical noise level</text>
<text x="140.3" y="913.1" text-anchor="end" class="tl"><tspan dy="2.1">−</tspan><tspan dy="-2.1">300</tspan></text>
<text x="140.3" y="781.1" text-anchor="end" class="tl"><tspan dy="2.1">−</tspan><tspan dy="-2.1">200</tspan></text>
<text x="140.3" y="649.1" text-anchor="end" class="tl"><tspan dy="2.1">−</tspan><tspan dy="-2.1">100</tspan></text>
<text x="140.3" y="517.1" text-anchor="end" class="tl">0</text>
<text x="140.3" y="385.1" text-anchor="end" class="tl">100</text>
<text x="140.3" y="253.1" text-anchor="end" class="tl">200</text>
<text x="140.3" y="121.1" text-anchor="end" class="tl">300</text>
<text x="163.3" y="946" text-anchor="middle" class="tl"><tspan dy="2.1">−</tspan><tspan dy="-2.1">10</tspan></text>
<text x="325.2" y="946" text-anchor="middle" class="tl">0</text>
<text x="487.2" y="946" text-anchor="middle" class="tl">10</text>
<text x="649.2" y="946" text-anchor="middle" class="tl">20</text>
<text x="811.1" y="946" text-anchor="middle" class="tl">30</text>
<text x="973.1" y="946" text-anchor="middle" class="tl">40</text>
<text x="1135.1" y="946" text-anchor="middle" class="tl">50</text>
<text x="1297" y="946" text-anchor="middle" class="tl">60</text>
<text x="1459" y="946" text-anchor="middle" class="tl">70</text>
<text x="1544.3" y="456.3" text-anchor="end" class="tl">980</text>
<text x="1544.3" y="395.3" text-anchor="end" class="tl">990</text>
<text x="1544.3" y="334.3" text-anchor="end" class="tl">1000</text>
<text x="1544.3" y="273.3" text-anchor="end" class="tl">1010</text>
<text x="1544.3" y="212.3" text-anchor="end" class="tl">1020</text>
<text x="1544.3" y="151.3" text-anchor="end" class="tl">1030</text>
<text x="1560.3" y="912.4" text-anchor="end" class="tl"><tspan dy="2.1">−</tspan><tspan dy="-2.1">1500</tspan></text>
<text x="1560.3" y="846.4" text-anchor="end" class="tl"><tspan dy="2.1">−</tspan><tspan dy="-2.1">1000</tspan></text>
<text x="1560.3" y="780.4" text-anchor="end" class="tl"><tspan dy="2.1">−</tspan><tspan dy="-2.1">500</tspan></text>
<text x="1560.3" y="714.4" text-anchor="end" class="tl">0</text>
<text x="1560.3" y="648.4" text-anchor="end" class="tl">500</text>
<text x="1560.3" y="582.4" text-anchor="end" class="tl">1000</text>
<text x="1433" y="82.1" text-anchor="end" class="ti">SCG_054 gravimeter Onsala Space Observatory, Sweden</text>
<text x="193" y="887.5" class="in">The latest 1<tspan dy="3">−</tspan><tspan dy="-3">hour, 1</tspan><tspan dy="3">−</tspan><tspan dy="-3">second sampling</tspan></text>
<text x="1430.2" y="887.5" text-anchor="end" class="in">End at 2018<tspan dy="3">−</tspan><tspan dy="-3">01</tspan><tspan dy="3">−</tspan><tspan dy="-3">25 12:59:59 UTC</tspan></text>
<text x="812" y="999.2" text-anchor="middle" class="al xl">Time [min] from 2018<tspan dy="2.7">−</tspan><tspan dy="-2.7">01</tspan><tspan dy="2.7">−</tspan><tspan dy="-2.7">25 12:00:00 UTC</tspan></text>
<text transform="translate(48.8,505) rotate(-90)" text-anchor="middle" class="al">Obs’d Gravity [nm/s<tspan class="sup" dy="-12">2</tspan><tspan dy="12">]</tspan></text>
<text transform="translate(1599.5,308) rotate(-90)" text-anchor="middle" class="al">Pressure [hPa]</text>
<text transform="translate(1614.9,704.5) rotate(-90)" text-anchor="middle" class="al">Tide [nm/s<tspan class="sup" dy="-12">2</tspan><tspan dy="12">]</tspan></text>
</g>
</svg></body></html>
